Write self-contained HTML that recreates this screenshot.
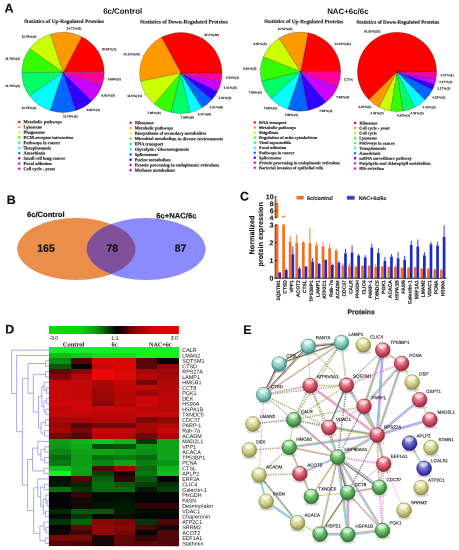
<!DOCTYPE html>
<html><head><meta charset="utf-8"><title>Figure</title>
<style>
html,body{margin:0;padding:0;background:#fff;}
body{width:459px;height:550px;overflow:hidden;font-family:"Liberation Sans",sans-serif;}
svg{display:block;will-change:transform;text-rendering:geometricPrecision;}
.s{font-family:"Liberation Sans",sans-serif;}
.r{font-family:"Liberation Serif",serif;}
</style></head><body>
<svg width="459" height="550" viewBox="0 0 459 550">
<rect width="459" height="550" fill="#fff"/>
<g transform="rotate(0.03 230 275)">
<g id="panelA">
<text class="s" x="4.3" y="12.7" font-size="12.4" font-weight="bold" fill="#111" stroke="#111" stroke-width="0.2">A</text>
<text class="s" x="103" y="13.9" font-size="7.9" font-weight="bold" fill="#111">6c/Control</text>
<text class="s" x="327" y="13.9" font-size="7.9" font-weight="bold" fill="#111">NAC+6c/6c</text>
<text class="r" x="63.8" y="23.1" font-size="5.38" font-weight="bold" text-anchor="middle" fill="#222" stroke="#222" stroke-width="0.15">Statistics of Up-Regulated Proteins</text>
<text class="r" x="183.8" y="23.6" font-size="5.44" font-weight="bold" text-anchor="middle" fill="#222" stroke="#222" stroke-width="0.15">Statistics of Down-Regulated Proteins</text>
<text class="r" x="303.7" y="23.1" font-size="5.32" font-weight="bold" text-anchor="middle" fill="#222" stroke="#222" stroke-width="0.15">Statistics of Up-Regulated Proteins</text>
<text class="r" x="397.8" y="23.6" font-size="5.15" font-weight="bold" text-anchor="middle" fill="#222" stroke="#222" stroke-width="0.15">Statistics of Down-Regulated Proteins</text>
<path d="M62.9 72.5 L104.1 72.5 A41.2 40.1 0 0 0 81.6 36.77 Z" fill="#FF0000" stroke="#222" stroke-width="0.25"/>
<path d="M98.03 51.55 L99.79 50.5" stroke="#333" stroke-width="0.3"/>
<text class="r" x="101.54" y="50.45" font-size="3.35" font-weight="bold" fill="#222" stroke="#222" stroke-width="0.12">20.59%(7)</text>
<path d="M62.9 72.5 L81.6 36.77 A41.2 40.1 0 0 0 50.17 34.36 Z" fill="#FF9900" stroke="#222" stroke-width="0.25"/>
<path d="M66.13 32.52 L66.29 30.52" stroke="#333" stroke-width="0.3"/>
<text class="r" x="66.46" y="29.53" font-size="3.35" font-weight="bold" fill="#222" stroke="#222" stroke-width="0.12">14.71%(5)</text>
<path d="M62.9 72.5 L50.17 34.36 A41.2 40.1 0 0 0 29.57 48.93 Z" fill="#CCFF00" stroke="#222" stroke-width="0.25"/>
<path d="M38.68 40.06 L37.47 38.44" stroke="#333" stroke-width="0.3"/>
<text class="r" x="36.26" y="37.81" font-size="3.35" font-weight="bold" text-anchor="end" fill="#222" stroke="#222" stroke-width="0.12">11.76%(4)</text>
<path d="M62.9 72.5 L29.57 48.93 A41.2 40.1 0 0 0 21.7 72.5 Z" fill="#33FF00" stroke="#222" stroke-width="0.25"/>
<path d="M23.72 60.11 L21.76 59.49" stroke="#333" stroke-width="0.3"/>
<text class="r" x="19.8" y="59.87" font-size="3.35" font-weight="bold" text-anchor="end" fill="#222" stroke="#222" stroke-width="0.12">11.76%(4)</text>
<path d="M62.9 72.5 L21.7 72.5 A41.2 40.1 0 0 0 29.57 96.07 Z" fill="#00FF66" stroke="#222" stroke-width="0.25"/>
<path d="M23.72 84.89 L21.76 85.51" stroke="#333" stroke-width="0.3"/>
<text class="r" x="19.8" y="87.13" font-size="3.35" font-weight="bold" text-anchor="end" fill="#222" stroke="#222" stroke-width="0.12">11.76%(4)</text>
<path d="M62.9 72.5 L29.57 96.07 A41.2 40.1 0 0 0 50.17 110.64 Z" fill="#00FFFF" stroke="#222" stroke-width="0.25"/>
<path d="M38.68 104.94 L37.47 106.56" stroke="#333" stroke-width="0.3"/>
<text class="r" x="36.26" y="109.19" font-size="3.35" font-weight="bold" text-anchor="end" fill="#222" stroke="#222" stroke-width="0.12">11.76%(4)</text>
<path d="M62.9 72.5 L50.17 110.64 A41.2 40.1 0 0 0 75.63 110.64 Z" fill="#0066FF" stroke="#222" stroke-width="0.25"/>
<path d="M62.9 112.6 L62.9 114.61" stroke="#333" stroke-width="0.3"/>
<text class="r" x="62.9" y="117.61" font-size="3.35" font-weight="bold" fill="#222" stroke="#222" stroke-width="0.12">11.76%(4)</text>
<path d="M62.9 72.5 L75.63 110.64 A41.2 40.1 0 0 0 92.03 100.85 Z" fill="#3300FF" stroke="#222" stroke-width="0.25"/>
<path d="M84.43 106.69 L85.5 108.4" stroke="#333" stroke-width="0.3"/>
<text class="r" x="86.58" y="111.11" font-size="3.35" font-weight="bold" fill="#222" stroke="#222" stroke-width="0.12">8.82%(3)</text>
<path d="M62.9 72.5 L92.03 100.85 A41.2 40.1 0 0 0 102.08 84.89 Z" fill="#CC00FF" stroke="#222" stroke-width="0.25"/>
<path d="M98.03 93.45 L99.79 94.5" stroke="#333" stroke-width="0.3"/>
<text class="r" x="101.54" y="96.55" font-size="3.35" font-weight="bold" fill="#222" stroke="#222" stroke-width="0.12">8.82%(3)</text>
<path d="M62.9 72.5 L102.08 84.89 A41.2 40.1 0 0 0 104.1 72.5 Z" fill="#FF0099" stroke="#222" stroke-width="0.25"/>
<path d="M103.59 78.77 L105.63 79.09" stroke="#333" stroke-width="0.3"/>
<text class="r" x="107.66" y="80.4" font-size="3.35" font-weight="bold" fill="#222" stroke="#222" stroke-width="0.12">5.88%(2)</text>
<path d="M180.7 73.1 L221.9 73.1 A41.2 40.5 0 0 0 161.34 37.35 Z" fill="#FF0000" stroke="#222" stroke-width="0.25"/>
<path d="M201.91 38.38 L202.97 36.64" stroke="#333" stroke-width="0.3"/>
<text class="r" x="204.03" y="35.91" font-size="3.35" font-weight="bold" fill="#222" stroke="#222" stroke-width="0.12">35.4%(40)</text>
<path d="M180.7 73.1 L161.34 37.35 A41.2 40.5 0 0 0 140.37 81.38 Z" fill="#FF9900" stroke="#222" stroke-width="0.25"/>
<path d="M143.39 55.93 L141.52 55.07" stroke="#333" stroke-width="0.3"/>
<text class="r" x="139.65" y="55.21" font-size="3.35" font-weight="bold" text-anchor="end" fill="#222" stroke="#222" stroke-width="0.12">22.12%(25)</text>
<path d="M180.7 73.1 L140.37 81.38 A41.2 40.5 0 0 0 154.31 104.2 Z" fill="#CCFF00" stroke="#222" stroke-width="0.25"/>
<path d="M145.38 93.95 L143.61 94.99" stroke="#333" stroke-width="0.3"/>
<text class="r" x="141.85" y="97.03" font-size="3.35" font-weight="bold" text-anchor="end" fill="#222" stroke="#222" stroke-width="0.12">11.5%(13)</text>
<path d="M180.7 73.1 L154.31 104.2 A41.2 40.5 0 0 0 171.24 112.52 Z" fill="#33FF00" stroke="#222" stroke-width="0.25"/>
<path d="M162.28 109.33 L161.36 111.14" stroke="#333" stroke-width="0.3"/>
<text class="r" x="160.44" y="113.95" font-size="3.35" font-weight="bold" text-anchor="end" fill="#222" stroke="#222" stroke-width="0.12">7.96%(9)</text>
<path d="M180.7 73.1 L171.24 112.52 A41.2 40.5 0 0 0 190.16 112.52 Z" fill="#00FF66" stroke="#222" stroke-width="0.25"/>
<path d="M180.7 113.6 L180.7 115.62" stroke="#333" stroke-width="0.3"/>
<text class="r" x="180.7" y="118.65" font-size="3.35" font-weight="bold" fill="#222" stroke="#222" stroke-width="0.12">7.96%(9)</text>
<path d="M180.7 73.1 L190.16 112.52 A41.2 40.5 0 0 0 201.91 107.82 Z" fill="#00FFFF" stroke="#222" stroke-width="0.25"/>
<path d="M196.22 110.62 L197 112.49" stroke="#333" stroke-width="0.3"/>
<text class="r" x="197.77" y="115.37" font-size="3.35" font-weight="bold" fill="#222" stroke="#222" stroke-width="0.12">5.31%(6)</text>
<path d="M180.7 73.1 L201.91 107.82 A41.2 40.5 0 0 0 211.65 99.84 Z" fill="#0066FF" stroke="#222" stroke-width="0.25"/>
<path d="M207.09 104.2 L208.41 105.75" stroke="#333" stroke-width="0.3"/>
<text class="r" x="209.73" y="108.31" font-size="3.35" font-weight="bold" fill="#222" stroke="#222" stroke-width="0.12">5.31%(6)</text>
<path d="M180.7 73.1 L211.65 99.84 A41.2 40.5 0 0 0 217.55 91.21 Z" fill="#3300FF" stroke="#222" stroke-width="0.25"/>
<path d="M214.88 95.71 L216.59 96.84" stroke="#333" stroke-width="0.3"/>
<text class="r" x="218.3" y="98.97" font-size="3.35" font-weight="bold" fill="#222" stroke="#222" stroke-width="0.12">4.42%(5)</text>
<path d="M180.7 73.1 L217.55 91.21 A41.2 40.5 0 0 0 221.03 81.38 Z" fill="#CC00FF" stroke="#222" stroke-width="0.25"/>
<path d="M219.61 86.41 L221.56 87.07" stroke="#333" stroke-width="0.3"/>
<text class="r" x="223.5" y="88.74" font-size="3.35" font-weight="bold" fill="#222" stroke="#222" stroke-width="0.12">4.42%(5)</text>
<path d="M180.7 73.1 L221.03 81.38 A41.2 40.5 0 0 0 221.9 73.1 Z" fill="#FF0099" stroke="#222" stroke-width="0.25"/>
<path d="M221.68 77.26 L223.73 77.47" stroke="#333" stroke-width="0.3"/>
<text class="r" x="225.78" y="78.68" font-size="3.35" font-weight="bold" fill="#222" stroke="#222" stroke-width="0.12">3.54%(4)</text>
<path d="M300.45 71.6 L340.6 71.6 A40.15 39.5 0 0 0 307.97 32.8 Z" fill="#FF0000" stroke="#222" stroke-width="0.25"/>
<path d="M331.39 46.42 L332.93 45.16" stroke="#333" stroke-width="0.3"/>
<text class="r" x="334.48" y="44.9" font-size="3.35" font-weight="bold" fill="#222" stroke="#222" stroke-width="0.12">21.15%(11)</text>
<path d="M300.45 71.6 L307.97 32.8 A40.15 39.5 0 0 0 278.94 38.25 Z" fill="#FF9900" stroke="#222" stroke-width="0.25"/>
<path d="M292.93 32.8 L292.55 30.86" stroke="#333" stroke-width="0.3"/>
<text class="r" x="292.17" y="29.92" font-size="3.35" font-weight="bold" text-anchor="end" fill="#222" stroke="#222" stroke-width="0.12">11.54%(6)</text>
<path d="M300.45 71.6 L278.94 38.25 A40.15 39.5 0 0 0 263.12 57.06 Z" fill="#CCFF00" stroke="#222" stroke-width="0.25"/>
<path d="M269.51 46.42 L267.97 45.16" stroke="#333" stroke-width="0.3"/>
<text class="r" x="266.42" y="44.9" font-size="3.35" font-weight="bold" text-anchor="end" fill="#222" stroke="#222" stroke-width="0.12">9.62%(5)</text>
<path d="M300.45 71.6 L263.12 57.06 A40.15 39.5 0 0 0 261.56 81.42 Z" fill="#33FF00" stroke="#222" stroke-width="0.25"/>
<path d="M260.38 69.12 L258.38 69" stroke="#333" stroke-width="0.3"/>
<text class="r" x="256.37" y="69.87" font-size="3.35" font-weight="bold" text-anchor="end" fill="#222" stroke="#222" stroke-width="0.12">9.62%(5)</text>
<path d="M300.45 71.6 L261.56 81.42 A40.15 39.5 0 0 0 271.18 98.64 Z" fill="#00FF66" stroke="#222" stroke-width="0.25"/>
<path d="M265.27 90.63 L263.51 91.58" stroke="#333" stroke-width="0.3"/>
<text class="r" x="261.75" y="93.53" font-size="3.35" font-weight="bold" text-anchor="end" fill="#222" stroke="#222" stroke-width="0.12">7.69%(4)</text>
<path d="M300.45 71.6 L271.18 98.64 A40.15 39.5 0 0 0 288.04 109.17 Z" fill="#00FFFF" stroke="#222" stroke-width="0.25"/>
<path d="M278.94 104.95 L277.86 106.62" stroke="#333" stroke-width="0.3"/>
<text class="r" x="276.79" y="109.29" font-size="3.35" font-weight="bold" text-anchor="end" fill="#222" stroke="#222" stroke-width="0.12">7.69%(4)</text>
<path d="M300.45 71.6 L288.04 109.17 A40.15 39.5 0 0 0 307.97 110.4 Z" fill="#0066FF" stroke="#222" stroke-width="0.25"/>
<path d="M297.93 111.02 L297.8 112.99" stroke="#333" stroke-width="0.3"/>
<text class="r" x="297.68" y="115.96" font-size="3.35" font-weight="bold" text-anchor="end" fill="#222" stroke="#222" stroke-width="0.12">7.69%(4)</text>
<path d="M300.45 71.6 L307.97 110.4 A40.15 39.5 0 0 0 326.04 102.04 Z" fill="#3300FF" stroke="#222" stroke-width="0.25"/>
<path d="M317.55 107.34 L318.4 109.13" stroke="#333" stroke-width="0.3"/>
<text class="r" x="319.25" y="111.91" font-size="3.35" font-weight="bold" fill="#222" stroke="#222" stroke-width="0.12">7.69%(4)</text>
<path d="M300.45 71.6 L326.04 102.04 A40.15 39.5 0 0 0 337.78 86.14 Z" fill="#CC00FF" stroke="#222" stroke-width="0.25"/>
<path d="M332.93 94.82 L334.56 95.98" stroke="#333" stroke-width="0.3"/>
<text class="r" x="336.18" y="98.14" font-size="3.35" font-weight="bold" fill="#222" stroke="#222" stroke-width="0.12">7.69%(4)</text>
<path d="M300.45 71.6 L337.78 86.14 A40.15 39.5 0 0 0 340.6 71.6 Z" fill="#FF0099" stroke="#222" stroke-width="0.25"/>
<path d="M339.89 79 L341.86 79.37" stroke="#333" stroke-width="0.3"/>
<text class="r" x="343.83" y="80.74" font-size="3.35" font-weight="bold" fill="#222" stroke="#222" stroke-width="0.12">5.77%</text>
<path d="M396.9 71.8 L436.5 71.8 A39.6 39.6 0 1 0 368.9 99.8 Z" fill="#FF0000" stroke="#222" stroke-width="0.25"/>
<path d="M381.75 35.21 L380.99 33.39" stroke="#333" stroke-width="0.3"/>
<text class="r" x="380.23" y="32.56" font-size="3.35" font-weight="bold" text-anchor="end" fill="#222" stroke="#222" stroke-width="0.12">54.35%(25)</text>
<path d="M396.9 71.8 L368.9 99.8 A39.6 39.6 0 0 0 378.92 107.08 Z" fill="#FF9900" stroke="#222" stroke-width="0.25"/>
<path d="M373.62 103.84 L372.46 105.44" stroke="#333" stroke-width="0.3"/>
<text class="r" x="371.3" y="108.04" font-size="3.35" font-weight="bold" text-anchor="end" fill="#222" stroke="#222" stroke-width="0.12">4.35%(2)</text>
<path d="M396.9 71.8 L378.92 107.08 A39.6 39.6 0 0 0 390.71 110.91 Z" fill="#CCFF00" stroke="#222" stroke-width="0.25"/>
<path d="M384.66 109.46 L384.05 111.34" stroke="#333" stroke-width="0.3"/>
<text class="r" x="383.44" y="114.23" font-size="3.35" font-weight="bold" text-anchor="end" fill="#222" stroke="#222" stroke-width="0.12">4.35%(2)</text>
<path d="M396.9 71.8 L390.71 110.91 A39.6 39.6 0 0 0 403.09 110.91 Z" fill="#33FF00" stroke="#222" stroke-width="0.25"/>
<path d="M396.9 111.4 L396.9 113.38" stroke="#333" stroke-width="0.3"/>
<text class="r" x="396.9" y="116.36" font-size="3.35" font-weight="bold" fill="#222" stroke="#222" stroke-width="0.12">4.35%(2)</text>
<path d="M396.9 71.8 L403.09 110.91 A39.6 39.6 0 0 0 414.88 107.08 Z" fill="#00FF66" stroke="#222" stroke-width="0.25"/>
<path d="M409.14 109.46 L409.75 111.34" stroke="#333" stroke-width="0.3"/>
<text class="r" x="410.36" y="114.23" font-size="3.35" font-weight="bold" fill="#222" stroke="#222" stroke-width="0.12">4.35%(2)</text>
<path d="M396.9 71.8 L414.88 107.08 A39.6 39.6 0 0 0 424.9 99.8 Z" fill="#00FFFF" stroke="#222" stroke-width="0.25"/>
<path d="M420.18 103.84 L421.34 105.44" stroke="#333" stroke-width="0.3"/>
<text class="r" x="422.5" y="108.04" font-size="3.35" font-weight="bold" fill="#222" stroke="#222" stroke-width="0.12">4.35%(2)</text>
<path d="M396.9 71.8 L424.9 99.8 A39.6 39.6 0 0 0 432.18 89.78 Z" fill="#0066FF" stroke="#222" stroke-width="0.25"/>
<path d="M428.94 95.08 L430.54 96.24" stroke="#333" stroke-width="0.3"/>
<text class="r" x="432.14" y="98.4" font-size="3.35" font-weight="bold" fill="#222" stroke="#222" stroke-width="0.12">4.35%(2)</text>
<path d="M396.9 71.8 L432.18 89.78 A39.6 39.6 0 0 0 434.56 84.04 Z" fill="#3300FF" stroke="#222" stroke-width="0.25"/>
<path d="M433.49 86.95 L435.31 87.71" stroke="#333" stroke-width="0.3"/>
<text class="r" x="437.14" y="89.47" font-size="3.35" font-weight="bold" fill="#222" stroke="#222" stroke-width="0.12">2.17%(1)</text>
<path d="M396.9 71.8 L434.56 84.04 A39.6 39.6 0 0 0 436.01 77.99 Z" fill="#CC00FF" stroke="#222" stroke-width="0.25"/>
<path d="M435.41 81.04 L437.33 81.51" stroke="#333" stroke-width="0.3"/>
<text class="r" x="439.26" y="82.97" font-size="3.35" font-weight="bold" fill="#222" stroke="#222" stroke-width="0.12">2.17%(1)</text>
<path d="M396.9 71.8 L436.01 77.99 A39.6 39.6 0 0 0 436.5 71.8 Z" fill="#FF0099" stroke="#222" stroke-width="0.25"/>
<path d="M436.38 74.91 L438.35 75.06" stroke="#333" stroke-width="0.3"/>
<text class="r" x="440.33" y="76.22" font-size="3.35" font-weight="bold" fill="#222" stroke="#222" stroke-width="0.12">2.17%(1)</text>
<circle cx="19.2" cy="122" r="1.2" fill="#FF0000"/>
<text class="r" x="23.5" y="123.45" font-size="4.45" font-weight="bold" fill="#1a1a1a" stroke="#1a1a1a" stroke-width="0.15">Metabolic pathways</text>
<circle cx="19.2" cy="127.21" r="1.2" fill="#FF9900"/>
<text class="r" x="23.5" y="128.66" font-size="4.45" font-weight="bold" fill="#1a1a1a" stroke="#1a1a1a" stroke-width="0.15">Lysosome</text>
<circle cx="19.2" cy="132.42" r="1.2" fill="#CCFF00"/>
<text class="r" x="23.5" y="133.87" font-size="4.45" font-weight="bold" fill="#1a1a1a" stroke="#1a1a1a" stroke-width="0.15">Phagosome</text>
<circle cx="19.2" cy="137.63" r="1.2" fill="#33FF00"/>
<text class="r" x="23.5" y="139.08" font-size="4.45" font-weight="bold" fill="#1a1a1a" stroke="#1a1a1a" stroke-width="0.15">ECM-receptor interaction</text>
<circle cx="19.2" cy="142.84" r="1.2" fill="#00FF66"/>
<text class="r" x="23.5" y="144.29" font-size="4.45" font-weight="bold" fill="#1a1a1a" stroke="#1a1a1a" stroke-width="0.15">Pathways in cancer</text>
<circle cx="19.2" cy="148.05" r="1.2" fill="#00FFFF"/>
<text class="r" x="23.5" y="149.5" font-size="4.45" font-weight="bold" fill="#1a1a1a" stroke="#1a1a1a" stroke-width="0.15">Toxoplasmosis</text>
<circle cx="19.2" cy="153.26" r="1.2" fill="#0066FF"/>
<text class="r" x="23.5" y="154.71" font-size="4.45" font-weight="bold" fill="#1a1a1a" stroke="#1a1a1a" stroke-width="0.15">Amoebiasis</text>
<circle cx="19.2" cy="158.47" r="1.2" fill="#3300FF"/>
<text class="r" x="23.5" y="159.92" font-size="4.45" font-weight="bold" fill="#1a1a1a" stroke="#1a1a1a" stroke-width="0.15">Small cell lung cancer</text>
<circle cx="19.2" cy="163.68" r="1.2" fill="#CC00FF"/>
<text class="r" x="23.5" y="165.13" font-size="4.45" font-weight="bold" fill="#1a1a1a" stroke="#1a1a1a" stroke-width="0.15">Focal adhesion</text>
<circle cx="19.2" cy="168.89" r="1.2" fill="#FF0099"/>
<text class="r" x="23.5" y="170.34" font-size="4.45" font-weight="bold" fill="#1a1a1a" stroke="#1a1a1a" stroke-width="0.15">Cell cycle - yeast</text>
<circle cx="130.5" cy="122.9" r="1.2" fill="#FF0000"/>
<text class="r" x="134.8" y="124.35" font-size="4.45" font-weight="bold" fill="#1a1a1a" stroke="#1a1a1a" stroke-width="0.15">Ribosome</text>
<circle cx="130.5" cy="128.17" r="1.2" fill="#FF9900"/>
<text class="r" x="134.8" y="129.62" font-size="4.45" font-weight="bold" fill="#1a1a1a" stroke="#1a1a1a" stroke-width="0.15">Metabolic pathways</text>
<circle cx="130.5" cy="133.44" r="1.2" fill="#CCFF00"/>
<text class="r" x="134.8" y="134.89" font-size="4.45" font-weight="bold" fill="#1a1a1a" stroke="#1a1a1a" stroke-width="0.15">Biosynthesis of secondary metabolites</text>
<circle cx="130.5" cy="138.71" r="1.2" fill="#33FF00"/>
<text class="r" x="134.8" y="140.16" font-size="4.45" font-weight="bold" fill="#1a1a1a" stroke="#1a1a1a" stroke-width="0.15">Microbial metabolism in diverse environments</text>
<circle cx="130.5" cy="143.98" r="1.2" fill="#00FF66"/>
<text class="r" x="134.8" y="145.43" font-size="4.45" font-weight="bold" fill="#1a1a1a" stroke="#1a1a1a" stroke-width="0.15">RNA transport</text>
<circle cx="130.5" cy="149.25" r="1.2" fill="#00FFFF"/>
<text class="r" x="134.8" y="150.7" font-size="4.45" font-weight="bold" fill="#1a1a1a" stroke="#1a1a1a" stroke-width="0.15">Glycolysis / Gluconeogenesis</text>
<circle cx="130.5" cy="154.52" r="1.2" fill="#0066FF"/>
<text class="r" x="134.8" y="155.97" font-size="4.45" font-weight="bold" fill="#1a1a1a" stroke="#1a1a1a" stroke-width="0.15">Spliceosome</text>
<circle cx="130.5" cy="159.79" r="1.2" fill="#3300FF"/>
<text class="r" x="134.8" y="161.24" font-size="4.45" font-weight="bold" fill="#1a1a1a" stroke="#1a1a1a" stroke-width="0.15">Purine metabolism</text>
<circle cx="130.5" cy="165.06" r="1.2" fill="#CC00FF"/>
<text class="r" x="134.8" y="166.51" font-size="4.45" font-weight="bold" fill="#1a1a1a" stroke="#1a1a1a" stroke-width="0.15">Protein processing in endoplasmic reticulum</text>
<circle cx="130.5" cy="170.33" r="1.2" fill="#FF0099"/>
<text class="r" x="134.8" y="171.78" font-size="4.45" font-weight="bold" fill="#1a1a1a" stroke="#1a1a1a" stroke-width="0.15">Methane metabolism</text>
<circle cx="254.7" cy="122.5" r="1.2" fill="#FF0000"/>
<text class="r" x="259" y="123.95" font-size="4.28" font-weight="bold" fill="#1a1a1a" stroke="#1a1a1a" stroke-width="0.15">RNA transport</text>
<circle cx="254.7" cy="127.53" r="1.2" fill="#FF9900"/>
<text class="r" x="259" y="128.98" font-size="4.28" font-weight="bold" fill="#1a1a1a" stroke="#1a1a1a" stroke-width="0.15">Metabolic pathways</text>
<circle cx="254.7" cy="132.56" r="1.2" fill="#CCFF00"/>
<text class="r" x="259" y="134.01" font-size="4.28" font-weight="bold" fill="#1a1a1a" stroke="#1a1a1a" stroke-width="0.15">Shigellosis</text>
<circle cx="254.7" cy="137.59" r="1.2" fill="#33FF00"/>
<text class="r" x="259" y="139.04" font-size="4.28" font-weight="bold" fill="#1a1a1a" stroke="#1a1a1a" stroke-width="0.15">Regulation of actin cytoskeleton</text>
<circle cx="254.7" cy="142.62" r="1.2" fill="#00FF66"/>
<text class="r" x="259" y="144.07" font-size="4.28" font-weight="bold" fill="#1a1a1a" stroke="#1a1a1a" stroke-width="0.15">Viral myocarditis</text>
<circle cx="254.7" cy="147.65" r="1.2" fill="#00FFFF"/>
<text class="r" x="259" y="149.1" font-size="4.28" font-weight="bold" fill="#1a1a1a" stroke="#1a1a1a" stroke-width="0.15">Focal adhesion</text>
<circle cx="254.7" cy="152.68" r="1.2" fill="#0066FF"/>
<text class="r" x="259" y="154.13" font-size="4.28" font-weight="bold" fill="#1a1a1a" stroke="#1a1a1a" stroke-width="0.15">Pathways in cancer</text>
<circle cx="254.7" cy="157.71" r="1.2" fill="#3300FF"/>
<text class="r" x="259" y="159.16" font-size="4.28" font-weight="bold" fill="#1a1a1a" stroke="#1a1a1a" stroke-width="0.15">Spliceosome</text>
<circle cx="254.7" cy="162.74" r="1.2" fill="#CC00FF"/>
<text class="r" x="259" y="164.19" font-size="4.28" font-weight="bold" fill="#1a1a1a" stroke="#1a1a1a" stroke-width="0.15">Protein processing in endoplasmic reticulum</text>
<circle cx="254.7" cy="167.77" r="1.2" fill="#FF0099"/>
<text class="r" x="259" y="169.22" font-size="4.28" font-weight="bold" fill="#1a1a1a" stroke="#1a1a1a" stroke-width="0.15">Bacterial invasion of epithelial cells</text>
<circle cx="355" cy="122.9" r="1.2" fill="#FF0000"/>
<text class="r" x="359.3" y="124.35" font-size="4.29" font-weight="bold" fill="#1a1a1a" stroke="#1a1a1a" stroke-width="0.15">Ribosome</text>
<circle cx="355" cy="127.95" r="1.2" fill="#FF9900"/>
<text class="r" x="359.3" y="129.4" font-size="4.29" font-weight="bold" fill="#1a1a1a" stroke="#1a1a1a" stroke-width="0.15">Cell cycle - yeast</text>
<circle cx="355" cy="133" r="1.2" fill="#CCFF00"/>
<text class="r" x="359.3" y="134.45" font-size="4.29" font-weight="bold" fill="#1a1a1a" stroke="#1a1a1a" stroke-width="0.15">Cell cycle</text>
<circle cx="355" cy="138.05" r="1.2" fill="#33FF00"/>
<text class="r" x="359.3" y="139.5" font-size="4.29" font-weight="bold" fill="#1a1a1a" stroke="#1a1a1a" stroke-width="0.15">Lysosome</text>
<circle cx="355" cy="143.1" r="1.2" fill="#00FF66"/>
<text class="r" x="359.3" y="144.55" font-size="4.29" font-weight="bold" fill="#1a1a1a" stroke="#1a1a1a" stroke-width="0.15">Pathways in cancer</text>
<circle cx="355" cy="148.15" r="1.2" fill="#00FFFF"/>
<text class="r" x="359.3" y="149.6" font-size="4.29" font-weight="bold" fill="#1a1a1a" stroke="#1a1a1a" stroke-width="0.15">Toxoplasmosis</text>
<circle cx="355" cy="153.2" r="1.2" fill="#0066FF"/>
<text class="r" x="359.3" y="154.65" font-size="4.29" font-weight="bold" fill="#1a1a1a" stroke="#1a1a1a" stroke-width="0.15">Amoebiasis</text>
<circle cx="355" cy="158.25" r="1.2" fill="#3300FF"/>
<text class="r" x="359.3" y="159.7" font-size="4.29" font-weight="bold" fill="#1a1a1a" stroke="#1a1a1a" stroke-width="0.15">mRNA surveillance pathway</text>
<circle cx="355" cy="163.3" r="1.2" fill="#CC00FF"/>
<text class="r" x="359.3" y="164.75" font-size="4.29" font-weight="bold" fill="#1a1a1a" stroke="#1a1a1a" stroke-width="0.15">Porphyrin and chlorophyll metabolism</text>
<circle cx="355" cy="168.35" r="1.2" fill="#FF0099"/>
<text class="r" x="359.3" y="169.8" font-size="4.29" font-weight="bold" fill="#1a1a1a" stroke="#1a1a1a" stroke-width="0.15">Bile secretion</text>
</g>
<g id="panelB">
<text class="s" x="6.8" y="204" font-size="12.4" font-weight="bold" fill="#111" stroke="#111" stroke-width="0.2">B</text>
<defs><clipPath id="vc"><ellipse cx="76.35" cy="249.1" rx="59.15" ry="31"/></clipPath></defs>
<ellipse cx="76.35" cy="249.1" rx="59.15" ry="31" fill="#EA8E4A"/>
<ellipse cx="146.15" cy="249.1" rx="59.45" ry="31" fill="#8B8BFF"/>
<ellipse cx="146.15" cy="249.1" rx="59.45" ry="31" fill="#81509B" clip-path="url(#vc)"/>
<text class="s" x="27" y="217.1" font-size="7.6" font-weight="bold" fill="#111" stroke="#111" stroke-width="0.18">6c/Control</text>
<text class="s" x="156.3" y="218.2" font-size="7.65" font-weight="bold" fill="#111" stroke="#111" stroke-width="0.18">6c+NAC/6c</text>
<text class="s" x="46" y="251.8" font-size="10.5" font-weight="bold" text-anchor="middle" fill="#111" stroke="#111" stroke-width="0.18">165</text>
<text class="s" x="112.3" y="251.8" font-size="10.5" font-weight="bold" text-anchor="middle" fill="#111" stroke="#111" stroke-width="0.18">78</text>
<text class="s" x="180.6" y="251.8" font-size="10.5" font-weight="bold" text-anchor="middle" fill="#111" stroke="#111" stroke-width="0.18">87</text>
</g>
<g id="panelC">
<text class="s" x="240" y="200.6" font-size="12.4" font-weight="bold" fill="#111" stroke="#111" stroke-width="0.2">C</text>
<rect x="275.65" y="224.57" width="2.7" height="53.63" fill="#FF6A1A"/>
<rect x="275.65" y="203.42" width="2.7" height="14.28" fill="#FF6A1A"/>
<path d="M277 203.42 V198.72" stroke="#FF6A1A" stroke-width="0.9"/>
<rect x="278.35" y="272.36" width="2.7" height="5.84" fill="#1C2BC8"/>
<path d="M279.7 272.36 V271.83" stroke="#1C2BC8" stroke-width="0.9"/>
<text class="s" font-weight="bold" font-size="4.95" fill="#1a1a1a" stroke="#1a1a1a" stroke-width="0.13" text-anchor="end" transform="translate(280.05 280.2) rotate(-90)">SQSTM1</text>
<rect x="282.23" y="224.57" width="2.7" height="53.63" fill="#FF6A1A"/>
<rect x="282.23" y="215.78" width="2.7" height="1.4" fill="#FF6A1A"/>
<rect x="284.93" y="269.88" width="2.7" height="8.32" fill="#1C2BC8"/>
<path d="M286.28 269.88 V268.29" stroke="#1C2BC8" stroke-width="0.9"/>
<text class="s" font-weight="bold" font-size="4.95" fill="#1a1a1a" stroke="#1a1a1a" stroke-width="0.13" text-anchor="end" transform="translate(286.63 280.2) rotate(-90)">CTSD</text>
<rect x="288.8" y="241.56" width="2.7" height="36.64" fill="#FF6A1A"/>
<path d="M290.15 241.56 V235.72" stroke="#FF6A1A" stroke-width="0.9"/>
<rect x="291.5" y="254.3" width="2.7" height="23.9" fill="#1C2BC8"/>
<path d="M292.85 254.3 V246.34" stroke="#1C2BC8" stroke-width="0.9"/>
<text class="s" font-weight="bold" font-size="4.95" fill="#1a1a1a" stroke="#1a1a1a" stroke-width="0.13" text-anchor="end" transform="translate(293.2 280.2) rotate(-90)">VPP1</text>
<rect x="295.38" y="242.8" width="2.7" height="35.4" fill="#FF6A1A"/>
<path d="M296.73 242.8 V234.3" stroke="#FF6A1A" stroke-width="0.9"/>
<rect x="298.08" y="268.46" width="2.7" height="9.74" fill="#1C2BC8"/>
<path d="M299.43 268.46 V266.52" stroke="#1C2BC8" stroke-width="0.9"/>
<text class="s" font-weight="bold" font-size="4.95" fill="#1a1a1a" stroke="#1a1a1a" stroke-width="0.13" text-anchor="end" transform="translate(299.78 280.2) rotate(-90)">ACOT2</text>
<rect x="301.95" y="242.27" width="2.7" height="35.93" fill="#FF6A1A"/>
<path d="M303.3 242.27 V241.03" stroke="#FF6A1A" stroke-width="0.9"/>
<rect x="304.65" y="266.52" width="2.7" height="11.68" fill="#1C2BC8"/>
<path d="M306 266.52 V265.81" stroke="#1C2BC8" stroke-width="0.9"/>
<text class="s" font-weight="bold" font-size="4.95" fill="#1a1a1a" stroke="#1a1a1a" stroke-width="0.13" text-anchor="end" transform="translate(306.35 280.2) rotate(-90)">CTSL</text>
<rect x="308.53" y="243.33" width="2.7" height="34.87" fill="#FF6A1A"/>
<path d="M309.88 243.33 V227.75" stroke="#FF6A1A" stroke-width="0.9"/>
<rect x="311.23" y="261.38" width="2.7" height="16.81" fill="#1C2BC8"/>
<path d="M312.58 261.38 V258.02" stroke="#1C2BC8" stroke-width="0.9"/>
<text class="s" font-weight="bold" font-size="4.95" fill="#1a1a1a" stroke="#1a1a1a" stroke-width="0.13" text-anchor="end" transform="translate(312.93 280.2) rotate(-90)">TP53BP1</text>
<rect x="315.11" y="245.45" width="2.7" height="32.75" fill="#FF6A1A"/>
<path d="M316.46 245.45 V242.27" stroke="#FF6A1A" stroke-width="0.9"/>
<rect x="317.81" y="263.69" width="2.7" height="14.51" fill="#1C2BC8"/>
<path d="M319.16 263.69 V262.98" stroke="#1C2BC8" stroke-width="0.9"/>
<text class="s" font-weight="bold" font-size="4.95" fill="#1a1a1a" stroke="#1a1a1a" stroke-width="0.13" text-anchor="end" transform="translate(319.51 280.2) rotate(-90)">LAMP1</text>
<rect x="321.68" y="246.52" width="2.7" height="31.68" fill="#FF6A1A"/>
<path d="M323.03 246.52 V242.27" stroke="#FF6A1A" stroke-width="0.9"/>
<rect x="324.38" y="259.97" width="2.7" height="18.23" fill="#1C2BC8"/>
<path d="M325.73 259.97 V259.26" stroke="#1C2BC8" stroke-width="0.9"/>
<text class="s" font-weight="bold" font-size="4.95" fill="#1a1a1a" stroke="#1a1a1a" stroke-width="0.13" text-anchor="end" transform="translate(326.08 280.2) rotate(-90)">ATP2C1</text>
<rect x="328.26" y="248.11" width="2.7" height="30.09" fill="#FF6A1A"/>
<path d="M329.61 248.11 V243.69" stroke="#FF6A1A" stroke-width="0.9"/>
<rect x="330.96" y="264.93" width="2.7" height="13.27" fill="#1C2BC8"/>
<path d="M332.31 264.93 V263.33" stroke="#1C2BC8" stroke-width="0.9"/>
<text class="s" font-weight="bold" font-size="4.95" fill="#1a1a1a" stroke="#1a1a1a" stroke-width="0.13" text-anchor="end" transform="translate(332.66 280.2) rotate(-90)">Rab-7a</text>
<rect x="334.83" y="250.41" width="2.7" height="27.79" fill="#FF6A1A"/>
<path d="M336.18 250.41 V248.82" stroke="#FF6A1A" stroke-width="0.9"/>
<rect x="337.53" y="262.62" width="2.7" height="15.58" fill="#1C2BC8"/>
<path d="M338.88 262.62 V260.68" stroke="#1C2BC8" stroke-width="0.9"/>
<text class="s" font-weight="bold" font-size="4.95" fill="#1a1a1a" stroke="#1a1a1a" stroke-width="0.13" text-anchor="end" transform="translate(339.23 280.2) rotate(-90)">ACADM</text>
<rect x="341.41" y="265.46" width="2.7" height="12.74" fill="#FF6A1A"/>
<path d="M342.76 265.46 V263.33" stroke="#FF6A1A" stroke-width="0.9"/>
<rect x="344.11" y="253.07" width="2.7" height="25.13" fill="#1C2BC8"/>
<path d="M345.46 253.07 V248.82" stroke="#1C2BC8" stroke-width="0.9"/>
<text class="s" font-weight="bold" font-size="4.95" fill="#1a1a1a" stroke="#1a1a1a" stroke-width="0.13" text-anchor="end" transform="translate(345.81 280.2) rotate(-90)">CDC37</text>
<rect x="347.99" y="266.16" width="2.7" height="12.04" fill="#FF6A1A"/>
<path d="M349.34 266.16 V262.8" stroke="#FF6A1A" stroke-width="0.9"/>
<rect x="350.69" y="252.53" width="2.7" height="25.66" fill="#1C2BC8"/>
<path d="M352.04 252.53 V245.45" stroke="#1C2BC8" stroke-width="0.9"/>
<text class="s" font-weight="bold" font-size="4.95" fill="#1a1a1a" stroke="#1a1a1a" stroke-width="0.13" text-anchor="end" transform="translate(352.39 280.2) rotate(-90)">CALR</text>
<rect x="354.56" y="266.52" width="2.7" height="11.68" fill="#FF6A1A"/>
<path d="M355.91 266.52 V265.46" stroke="#FF6A1A" stroke-width="0.9"/>
<rect x="357.26" y="255.54" width="2.7" height="22.66" fill="#1C2BC8"/>
<path d="M358.61 255.54 V253.77" stroke="#1C2BC8" stroke-width="0.9"/>
<text class="s" font-weight="bold" font-size="4.95" fill="#1a1a1a" stroke="#1a1a1a" stroke-width="0.13" text-anchor="end" transform="translate(358.96 280.2) rotate(-90)">PHGDH</text>
<rect x="361.14" y="265.81" width="2.7" height="12.39" fill="#FF6A1A"/>
<path d="M362.49 265.81 V265.1" stroke="#FF6A1A" stroke-width="0.9"/>
<rect x="363.84" y="257.14" width="2.7" height="21.06" fill="#1C2BC8"/>
<path d="M365.19 257.14 V255.01" stroke="#1C2BC8" stroke-width="0.9"/>
<text class="s" font-weight="bold" font-size="4.95" fill="#1a1a1a" stroke="#1a1a1a" stroke-width="0.13" text-anchor="end" transform="translate(365.54 280.2) rotate(-90)">CLIC4</text>
<rect x="367.71" y="265.81" width="2.7" height="12.39" fill="#FF6A1A"/>
<path d="M369.06 265.81 V264.75" stroke="#FF6A1A" stroke-width="0.9"/>
<rect x="370.41" y="247.4" width="2.7" height="30.8" fill="#1C2BC8"/>
<path d="M371.76 247.4 V243.69" stroke="#1C2BC8" stroke-width="0.9"/>
<text class="s" font-weight="bold" font-size="4.95" fill="#1a1a1a" stroke="#1a1a1a" stroke-width="0.13" text-anchor="end" transform="translate(372.11 280.2) rotate(-90)">PARP-1</text>
<rect x="374.29" y="266.87" width="2.7" height="11.33" fill="#FF6A1A"/>
<path d="M375.64 266.87 V264.04" stroke="#FF6A1A" stroke-width="0.9"/>
<rect x="376.99" y="252.89" width="2.7" height="25.31" fill="#1C2BC8"/>
<path d="M378.34 252.89 V248.11" stroke="#1C2BC8" stroke-width="0.9"/>
<text class="s" font-weight="bold" font-size="4.95" fill="#1a1a1a" stroke="#1a1a1a" stroke-width="0.13" text-anchor="end" transform="translate(378.69 280.2) rotate(-90)">TXNDC5</text>
<rect x="380.87" y="266.52" width="2.7" height="11.68" fill="#FF6A1A"/>
<path d="M382.22 266.52 V265.81" stroke="#FF6A1A" stroke-width="0.9"/>
<rect x="383.57" y="261.03" width="2.7" height="17.17" fill="#1C2BC8"/>
<path d="M384.92 261.03 V256.78" stroke="#1C2BC8" stroke-width="0.9"/>
<text class="s" font-weight="bold" font-size="4.95" fill="#1a1a1a" stroke="#1a1a1a" stroke-width="0.13" text-anchor="end" transform="translate(385.27 280.2) rotate(-90)">PGK1</text>
<rect x="387.44" y="266.87" width="2.7" height="11.33" fill="#FF6A1A"/>
<path d="M388.79 266.87 V266.16" stroke="#FF6A1A" stroke-width="0.9"/>
<rect x="390.14" y="256.78" width="2.7" height="21.42" fill="#1C2BC8"/>
<path d="M391.49 256.78 V254.13" stroke="#1C2BC8" stroke-width="0.9"/>
<text class="s" font-weight="bold" font-size="4.95" fill="#1a1a1a" stroke="#1a1a1a" stroke-width="0.13" text-anchor="end" transform="translate(391.84 280.2) rotate(-90)">ACACA</text>
<rect x="394.02" y="266.87" width="2.7" height="11.33" fill="#FF6A1A"/>
<path d="M395.37 266.87 V264.75" stroke="#FF6A1A" stroke-width="0.9"/>
<rect x="396.72" y="258.2" width="2.7" height="20" fill="#1C2BC8"/>
<path d="M398.07 258.2 V251.83" stroke="#1C2BC8" stroke-width="0.9"/>
<text class="s" font-weight="bold" font-size="4.95" fill="#1a1a1a" stroke="#1a1a1a" stroke-width="0.13" text-anchor="end" transform="translate(398.42 280.2) rotate(-90)">HSPA1B</text>
<rect x="400.59" y="267.58" width="2.7" height="10.62" fill="#FF6A1A"/>
<path d="M401.94 267.58 V266.87" stroke="#FF6A1A" stroke-width="0.9"/>
<rect x="403.29" y="259.62" width="2.7" height="18.58" fill="#1C2BC8"/>
<path d="M404.64 259.62 V255.72" stroke="#1C2BC8" stroke-width="0.9"/>
<text class="s" font-weight="bold" font-size="4.95" fill="#1a1a1a" stroke="#1a1a1a" stroke-width="0.13" text-anchor="end" transform="translate(404.99 280.2) rotate(-90)">FASN</text>
<rect x="407.17" y="267.58" width="2.7" height="10.62" fill="#FF6A1A"/>
<path d="M408.52 267.58 V266.87" stroke="#FF6A1A" stroke-width="0.9"/>
<rect x="409.87" y="244.92" width="2.7" height="33.28" fill="#1C2BC8"/>
<path d="M411.22 244.92 V240.5" stroke="#1C2BC8" stroke-width="0.9"/>
<text class="s" font-weight="bold" font-size="4.95" fill="#1a1a1a" stroke="#1a1a1a" stroke-width="0.13" text-anchor="end" transform="translate(411.57 280.2) rotate(-90)">Galectin-1</text>
<rect x="413.75" y="267.23" width="2.7" height="10.97" fill="#FF6A1A"/>
<path d="M415.1 267.23 V266.52" stroke="#FF6A1A" stroke-width="0.9"/>
<rect x="416.45" y="246.52" width="2.7" height="31.68" fill="#1C2BC8"/>
<path d="M417.8 246.52 V239.26" stroke="#1C2BC8" stroke-width="0.9"/>
<text class="s" font-weight="bold" font-size="4.95" fill="#1a1a1a" stroke="#1a1a1a" stroke-width="0.13" text-anchor="end" transform="translate(418.15 280.2) rotate(-90)">EEF1A1</text>
<rect x="420.32" y="268.29" width="2.7" height="9.91" fill="#FF6A1A"/>
<path d="M421.67 268.29 V267.58" stroke="#FF6A1A" stroke-width="0.9"/>
<rect x="423.02" y="255.19" width="2.7" height="23.01" fill="#1C2BC8"/>
<path d="M424.37 255.19 V251.83" stroke="#1C2BC8" stroke-width="0.9"/>
<text class="s" font-weight="bold" font-size="4.95" fill="#1a1a1a" stroke="#1a1a1a" stroke-width="0.13" text-anchor="end" transform="translate(424.72 280.2) rotate(-90)">LMAN2</text>
<rect x="426.9" y="268.64" width="2.7" height="9.56" fill="#FF6A1A"/>
<path d="M428.25 268.64 V267.93" stroke="#FF6A1A" stroke-width="0.9"/>
<rect x="429.6" y="244.22" width="2.7" height="33.98" fill="#1C2BC8"/>
<path d="M430.95 244.22 V241.56" stroke="#1C2BC8" stroke-width="0.9"/>
<text class="s" font-weight="bold" font-size="4.95" fill="#1a1a1a" stroke="#1a1a1a" stroke-width="0.13" text-anchor="end" transform="translate(431.3 280.2) rotate(-90)">VDAC1</text>
<rect x="433.47" y="269.17" width="2.7" height="9.03" fill="#FF6A1A"/>
<path d="M434.82 269.17 V268.46" stroke="#FF6A1A" stroke-width="0.9"/>
<rect x="436.17" y="245.28" width="2.7" height="32.92" fill="#1C2BC8"/>
<path d="M437.52 245.28 V241.56" stroke="#1C2BC8" stroke-width="0.9"/>
<text class="s" font-weight="bold" font-size="4.95" fill="#1a1a1a" stroke="#1a1a1a" stroke-width="0.13" text-anchor="end" transform="translate(437.87 280.2) rotate(-90)">PCNA</text>
<rect x="440.05" y="269.7" width="2.7" height="8.5" fill="#FF6A1A"/>
<path d="M441.4 269.7 V269" stroke="#FF6A1A" stroke-width="0.9"/>
<rect x="442.75" y="236.6" width="2.7" height="41.59" fill="#1C2BC8"/>
<path d="M444.1 236.6 V225.28" stroke="#1C2BC8" stroke-width="0.9"/>
<text class="s" font-weight="bold" font-size="4.95" fill="#1a1a1a" stroke="#1a1a1a" stroke-width="0.13" text-anchor="end" transform="translate(444.45 280.2) rotate(-90)">HS90A</text>
<path d="M275.2 196.5 V218 M275.2 224.6 V278.65" stroke="#222" stroke-width="0.9" fill="none"/>
<path d="M274.75 278.2 H446.6" stroke="#222" stroke-width="0.9" fill="none"/>
<path d="M274.7 196.8 H277.1" stroke="#222" stroke-width="0.8"/>
<text class="s" x="273.5" y="199.3" font-size="7" font-weight="bold" text-anchor="end" fill="#111" stroke="#111" stroke-width="0.12">10</text>
<path d="M274.7 203.77 H277.1" stroke="#222" stroke-width="0.8"/>
<text class="s" x="273.5" y="206.27" font-size="7" font-weight="bold" text-anchor="end" fill="#111" stroke="#111" stroke-width="0.12">8</text>
<path d="M274.7 210.73 H277.1" stroke="#222" stroke-width="0.8"/>
<text class="s" x="273.5" y="213.23" font-size="7" font-weight="bold" text-anchor="end" fill="#111" stroke="#111" stroke-width="0.12">6</text>
<path d="M274.7 217.7 H277.1" stroke="#222" stroke-width="0.8"/>
<text class="s" x="273.5" y="220.2" font-size="7" font-weight="bold" text-anchor="end" fill="#111" stroke="#111" stroke-width="0.12">4</text>
<path d="M274.7 225.1 H277.1" stroke="#222" stroke-width="0.8"/>
<text class="s" x="273.5" y="227.6" font-size="7" font-weight="bold" text-anchor="end" fill="#111" stroke="#111" stroke-width="0.12">3</text>
<path d="M274.7 242.8 H277.1" stroke="#222" stroke-width="0.8"/>
<text class="s" x="273.5" y="245.3" font-size="7" font-weight="bold" text-anchor="end" fill="#111" stroke="#111" stroke-width="0.12">2</text>
<path d="M274.7 260.5 H277.1" stroke="#222" stroke-width="0.8"/>
<text class="s" x="273.5" y="263" font-size="7" font-weight="bold" text-anchor="end" fill="#111" stroke="#111" stroke-width="0.12">1</text>
<path d="M274.7 278.2 H277.1" stroke="#222" stroke-width="0.8"/>
<text class="s" x="273.5" y="280.7" font-size="7" font-weight="bold" text-anchor="end" fill="#111" stroke="#111" stroke-width="0.12">0</text>
<text class="s" font-weight="bold" font-size="7.2" fill="#1a1a1a" stroke="#1a1a1a" stroke-width="0.15" text-anchor="middle" transform="translate(254.3 235) rotate(-90)">Normalized</text>
<text class="s" font-weight="bold" font-size="7.2" fill="#1a1a1a" stroke="#1a1a1a" stroke-width="0.15" text-anchor="middle" transform="translate(263 234.3) rotate(-90)">protein expression</text>
<text class="s" x="361.2" y="314.2" font-size="6.8" font-weight="bold" text-anchor="middle" fill="#1a1a1a" stroke="#1a1a1a" stroke-width="0.15">Proteins</text>
<rect x="296.5" y="195.9" width="7.2" height="3.6" fill="#FF6A1A"/>
<text class="s" x="307" y="200" font-size="5.4" font-weight="bold" fill="#1a1a1a" stroke="#1a1a1a" stroke-width="0.1">6c/control</text>
<rect x="347.3" y="196.1" width="7.0" height="3.2" fill="#2743D6" stroke="#161F8C" stroke-width="0.5"/>
<text class="s" x="358.6" y="200" font-size="5.3" font-weight="bold" fill="#1a1a1a" stroke="#1a1a1a" stroke-width="0.1">NAC+6c/6c</text>
</g>
<g id="panelD">
<text class="s" x="5.2" y="333.7" font-size="12.4" font-weight="bold" fill="#111" stroke="#111" stroke-width="0.2">D</text>
<defs><linearGradient id="cb" x1="0" x2="1" y1="0" y2="0"><stop offset="0" stop-color="#06DC06"/><stop offset="0.25" stop-color="#08D408"/><stop offset="0.38" stop-color="#0A900A"/><stop offset="0.52" stop-color="#000000"/><stop offset="0.66" stop-color="#900000"/><stop offset="0.79" stop-color="#D80000"/><stop offset="1" stop-color="#EA0000"/></linearGradient></defs>
<rect x="49" y="326.1" width="129.9" height="7.9" fill="url(#cb)"/>
<text class="s" x="49.2" y="339.9" font-size="5.2" fill="#333" stroke="#333" stroke-width="0.1">-3.0</text>
<text class="s" x="115" y="339.9" font-size="5.2" text-anchor="middle" fill="#333" stroke="#333" stroke-width="0.1">1:1</text>
<text class="s" x="177.9" y="339.9" font-size="5.2" text-anchor="end" fill="#333" stroke="#333" stroke-width="0.1">3.0</text>
<text class="r" x="73.6" y="346.6" font-size="6.5" font-weight="bold" text-anchor="middle" fill="#333" stroke="#333" stroke-width="0.1">Control</text>
<text class="r" x="114.6" y="346.6" font-size="6.3" font-weight="bold" text-anchor="middle" fill="#333" stroke="#333" stroke-width="0.1">6c</text>
<text class="r" x="160.3" y="346.6" font-size="6.15" font-weight="bold" text-anchor="middle" fill="#333" stroke="#333" stroke-width="0.1">NAC+6c</text>
<rect x="49" y="347.5" width="129.9" height="198.7" fill="#400"/>
<g shape-rendering="crispEdges">
<rect x="49" y="347.5" width="21.95" height="5.67" fill="#13F221"/>
<rect x="70.65" y="347.5" width="21.95" height="5.67" fill="#13F221"/>
<rect x="92.3" y="347.5" width="21.95" height="5.67" fill="#13F221"/>
<rect x="113.95" y="347.5" width="21.95" height="5.67" fill="#13F221"/>
<rect x="135.6" y="347.5" width="21.95" height="5.67" fill="#13F522"/>
<rect x="157.25" y="347.5" width="21.65" height="5.67" fill="#13F522"/>
<rect x="49" y="352.87" width="21.95" height="5.67" fill="#0FBC1A"/>
<rect x="70.65" y="352.87" width="21.95" height="5.67" fill="#10CA1C"/>
<rect x="92.3" y="352.87" width="21.95" height="5.67" fill="#11E01F"/>
<rect x="113.95" y="352.87" width="21.95" height="5.67" fill="#11E01F"/>
<rect x="135.6" y="352.87" width="21.95" height="5.67" fill="#13F221"/>
<rect x="157.25" y="352.87" width="21.65" height="5.67" fill="#13F221"/>
<rect x="49" y="358.24" width="21.95" height="5.67" fill="#0B8D13"/>
<rect x="70.65" y="358.24" width="21.95" height="5.67" fill="#500707"/>
<rect x="92.3" y="358.24" width="21.95" height="5.67" fill="#DB0707"/>
<rect x="113.95" y="358.24" width="21.95" height="5.67" fill="#D30707"/>
<rect x="135.6" y="358.24" width="21.95" height="5.67" fill="#5A0707"/>
<rect x="157.25" y="358.24" width="21.65" height="5.67" fill="#050505"/>
<rect x="49" y="363.61" width="21.95" height="5.67" fill="#075A0C"/>
<rect x="70.65" y="363.61" width="21.95" height="5.67" fill="#050505"/>
<rect x="92.3" y="363.61" width="21.95" height="5.67" fill="#CC0707"/>
<rect x="113.95" y="363.61" width="21.95" height="5.67" fill="#DB0707"/>
<rect x="135.6" y="363.61" width="21.95" height="5.67" fill="#580707"/>
<rect x="157.25" y="363.61" width="21.65" height="5.67" fill="#8F0707"/>
<rect x="49" y="368.98" width="21.95" height="5.67" fill="#620707"/>
<rect x="70.65" y="368.98" width="21.95" height="5.67" fill="#880707"/>
<rect x="92.3" y="368.98" width="21.95" height="5.67" fill="#EA0707"/>
<rect x="113.95" y="368.98" width="21.95" height="5.67" fill="#DB0707"/>
<rect x="135.6" y="368.98" width="21.95" height="5.67" fill="#A60707"/>
<rect x="157.25" y="368.98" width="21.65" height="5.67" fill="#9E0707"/>
<rect x="49" y="374.35" width="21.95" height="5.67" fill="#800707"/>
<rect x="70.65" y="374.35" width="21.95" height="5.67" fill="#B50707"/>
<rect x="92.3" y="374.35" width="21.95" height="5.67" fill="#F00707"/>
<rect x="113.95" y="374.35" width="21.95" height="5.67" fill="#E20707"/>
<rect x="135.6" y="374.35" width="21.95" height="5.67" fill="#B50707"/>
<rect x="157.25" y="374.35" width="21.65" height="5.67" fill="#A60707"/>
<rect x="49" y="379.72" width="21.95" height="5.67" fill="#C40707"/>
<rect x="70.65" y="379.72" width="21.95" height="5.67" fill="#C40707"/>
<rect x="92.3" y="379.72" width="21.95" height="5.67" fill="#AD0707"/>
<rect x="113.95" y="379.72" width="21.95" height="5.67" fill="#C40707"/>
<rect x="135.6" y="379.72" width="21.95" height="5.67" fill="#710707"/>
<rect x="157.25" y="379.72" width="21.65" height="5.67" fill="#AD0707"/>
<rect x="49" y="385.09" width="21.95" height="5.67" fill="#C40707"/>
<rect x="70.65" y="385.09" width="21.95" height="5.67" fill="#C40707"/>
<rect x="92.3" y="385.09" width="21.95" height="5.67" fill="#A60707"/>
<rect x="113.95" y="385.09" width="21.95" height="5.67" fill="#BD0707"/>
<rect x="135.6" y="385.09" width="21.95" height="5.67" fill="#C40707"/>
<rect x="157.25" y="385.09" width="21.65" height="5.67" fill="#B50707"/>
<rect x="49" y="390.46" width="21.95" height="5.67" fill="#C80707"/>
<rect x="70.65" y="390.46" width="21.95" height="5.67" fill="#C40707"/>
<rect x="92.3" y="390.46" width="21.95" height="5.67" fill="#9E0707"/>
<rect x="113.95" y="390.46" width="21.95" height="5.67" fill="#B50707"/>
<rect x="135.6" y="390.46" width="21.95" height="5.67" fill="#9E0707"/>
<rect x="157.25" y="390.46" width="21.65" height="5.67" fill="#B50707"/>
<rect x="49" y="395.83" width="21.95" height="5.67" fill="#C40707"/>
<rect x="70.65" y="395.83" width="21.95" height="5.67" fill="#C40707"/>
<rect x="92.3" y="395.83" width="21.95" height="5.67" fill="#970707"/>
<rect x="113.95" y="395.83" width="21.95" height="5.67" fill="#B50707"/>
<rect x="135.6" y="395.83" width="21.95" height="5.67" fill="#CC0707"/>
<rect x="157.25" y="395.83" width="21.65" height="5.67" fill="#BD0707"/>
<rect x="49" y="401.2" width="21.95" height="5.67" fill="#D30707"/>
<rect x="70.65" y="401.2" width="21.95" height="5.67" fill="#CC0707"/>
<rect x="92.3" y="401.2" width="21.95" height="5.67" fill="#880707"/>
<rect x="113.95" y="401.2" width="21.95" height="5.67" fill="#B50707"/>
<rect x="135.6" y="401.2" width="21.95" height="5.67" fill="#CC0707"/>
<rect x="157.25" y="401.2" width="21.65" height="5.67" fill="#BD0707"/>
<rect x="49" y="406.57" width="21.95" height="5.67" fill="#BD0707"/>
<rect x="70.65" y="406.57" width="21.95" height="5.67" fill="#CC0707"/>
<rect x="92.3" y="406.57" width="21.95" height="5.67" fill="#C40707"/>
<rect x="113.95" y="406.57" width="21.95" height="5.67" fill="#C40707"/>
<rect x="135.6" y="406.57" width="21.95" height="5.67" fill="#BD0707"/>
<rect x="157.25" y="406.57" width="21.65" height="5.67" fill="#B50707"/>
<rect x="49" y="411.94" width="21.95" height="5.67" fill="#C40707"/>
<rect x="70.65" y="411.94" width="21.95" height="5.67" fill="#C40707"/>
<rect x="92.3" y="411.94" width="21.95" height="5.67" fill="#BD0707"/>
<rect x="113.95" y="411.94" width="21.95" height="5.67" fill="#BD0707"/>
<rect x="135.6" y="411.94" width="21.95" height="5.67" fill="#C40707"/>
<rect x="157.25" y="411.94" width="21.65" height="5.67" fill="#C40707"/>
<rect x="49" y="417.31" width="21.95" height="5.67" fill="#A60707"/>
<rect x="70.65" y="417.31" width="21.95" height="5.67" fill="#A60707"/>
<rect x="92.3" y="417.31" width="21.95" height="5.67" fill="#B50707"/>
<rect x="113.95" y="417.31" width="21.95" height="5.67" fill="#B50707"/>
<rect x="135.6" y="417.31" width="21.95" height="5.67" fill="#780707"/>
<rect x="157.25" y="417.31" width="21.65" height="5.67" fill="#8F0707"/>
<rect x="49" y="422.68" width="21.95" height="5.67" fill="#970707"/>
<rect x="70.65" y="422.68" width="21.95" height="5.67" fill="#5A0707"/>
<rect x="92.3" y="422.68" width="21.95" height="5.67" fill="#710707"/>
<rect x="113.95" y="422.68" width="21.95" height="5.67" fill="#710707"/>
<rect x="135.6" y="422.68" width="21.95" height="5.67" fill="#A60707"/>
<rect x="157.25" y="422.68" width="21.65" height="5.67" fill="#B50707"/>
<rect x="49" y="428.05" width="21.95" height="5.67" fill="#A60707"/>
<rect x="70.65" y="428.05" width="21.95" height="5.67" fill="#780707"/>
<rect x="92.3" y="428.05" width="21.95" height="5.67" fill="#C40707"/>
<rect x="113.95" y="428.05" width="21.95" height="5.67" fill="#C40707"/>
<rect x="135.6" y="428.05" width="21.95" height="5.67" fill="#A60707"/>
<rect x="157.25" y="428.05" width="21.65" height="5.67" fill="#C40707"/>
<rect x="49" y="433.42" width="21.95" height="5.67" fill="#780707"/>
<rect x="70.65" y="433.42" width="21.95" height="5.67" fill="#500707"/>
<rect x="92.3" y="433.42" width="21.95" height="5.67" fill="#B50707"/>
<rect x="113.95" y="433.42" width="21.95" height="5.67" fill="#B50707"/>
<rect x="135.6" y="433.42" width="21.95" height="5.67" fill="#710707"/>
<rect x="157.25" y="433.42" width="21.65" height="5.67" fill="#A60707"/>
<rect x="49" y="438.79" width="21.95" height="5.67" fill="#0C9D15"/>
<rect x="70.65" y="438.79" width="21.95" height="5.67" fill="#0EB419"/>
<rect x="92.3" y="438.79" width="21.95" height="5.67" fill="#0FC51B"/>
<rect x="113.95" y="438.79" width="21.95" height="5.67" fill="#0EB419"/>
<rect x="135.6" y="438.79" width="21.95" height="5.67" fill="#043807"/>
<rect x="157.25" y="438.79" width="21.65" height="5.67" fill="#0DA517"/>
<rect x="49" y="444.16" width="21.95" height="5.67" fill="#0C9615"/>
<rect x="70.65" y="444.16" width="21.95" height="5.67" fill="#0DAC18"/>
<rect x="92.3" y="444.16" width="21.95" height="5.67" fill="#05480A"/>
<rect x="113.95" y="444.16" width="21.95" height="5.67" fill="#06500B"/>
<rect x="135.6" y="444.16" width="21.95" height="5.67" fill="#0C9615"/>
<rect x="157.25" y="444.16" width="21.65" height="5.67" fill="#0DA517"/>
<rect x="49" y="449.54" width="21.95" height="5.67" fill="#0A8712"/>
<rect x="70.65" y="449.54" width="21.95" height="5.67" fill="#0DA517"/>
<rect x="92.3" y="449.54" width="21.95" height="5.67" fill="#0DA517"/>
<rect x="113.95" y="449.54" width="21.95" height="5.67" fill="#0C9D15"/>
<rect x="135.6" y="449.54" width="21.95" height="5.67" fill="#0B8E13"/>
<rect x="157.25" y="449.54" width="21.65" height="5.67" fill="#0DA517"/>
<rect x="49" y="454.91" width="21.95" height="5.67" fill="#08690E"/>
<rect x="70.65" y="454.91" width="21.95" height="5.67" fill="#0C9D15"/>
<rect x="92.3" y="454.91" width="21.95" height="5.67" fill="#08700F"/>
<rect x="113.95" y="454.91" width="21.95" height="5.67" fill="#097810"/>
<rect x="135.6" y="454.91" width="21.95" height="5.67" fill="#08690E"/>
<rect x="157.25" y="454.91" width="21.65" height="5.67" fill="#0DA517"/>
<rect x="49" y="460.28" width="21.95" height="5.67" fill="#097810"/>
<rect x="70.65" y="460.28" width="21.95" height="5.67" fill="#0C9D15"/>
<rect x="92.3" y="460.28" width="21.95" height="5.67" fill="#0A8712"/>
<rect x="113.95" y="460.28" width="21.95" height="5.67" fill="#0DA517"/>
<rect x="135.6" y="460.28" width="21.95" height="5.67" fill="#0A7F11"/>
<rect x="157.25" y="460.28" width="21.65" height="5.67" fill="#0C9615"/>
<rect x="49" y="465.65" width="21.95" height="5.67" fill="#0FC31B"/>
<rect x="70.65" y="465.65" width="21.95" height="5.67" fill="#0DA517"/>
<rect x="92.3" y="465.65" width="21.95" height="5.67" fill="#500707"/>
<rect x="113.95" y="465.65" width="21.95" height="5.67" fill="#9E0707"/>
<rect x="135.6" y="465.65" width="21.95" height="5.67" fill="#08690E"/>
<rect x="157.25" y="465.65" width="21.65" height="5.67" fill="#0EB419"/>
<rect x="49" y="471.02" width="21.95" height="5.67" fill="#13F522"/>
<rect x="70.65" y="471.02" width="21.95" height="5.67" fill="#0C9D15"/>
<rect x="92.3" y="471.02" width="21.95" height="5.67" fill="#054008"/>
<rect x="113.95" y="471.02" width="21.95" height="5.67" fill="#180404"/>
<rect x="135.6" y="471.02" width="21.95" height="5.67" fill="#097810"/>
<rect x="157.25" y="471.02" width="21.65" height="5.67" fill="#0FBC1A"/>
<rect x="49" y="476.39" width="21.95" height="5.67" fill="#041004"/>
<rect x="70.65" y="476.39" width="21.95" height="5.67" fill="#500707"/>
<rect x="92.3" y="476.39" width="21.95" height="5.67" fill="#07610D"/>
<rect x="113.95" y="476.39" width="21.95" height="5.67" fill="#300707"/>
<rect x="135.6" y="476.39" width="21.95" height="5.67" fill="#07580C"/>
<rect x="157.25" y="476.39" width="21.65" height="5.67" fill="#050505"/>
<rect x="49" y="481.76" width="21.95" height="5.67" fill="#011803"/>
<rect x="70.65" y="481.76" width="21.95" height="5.67" fill="#032805"/>
<rect x="92.3" y="481.76" width="21.95" height="5.67" fill="#08700F"/>
<rect x="113.95" y="481.76" width="21.95" height="5.67" fill="#07580C"/>
<rect x="135.6" y="481.76" width="21.95" height="5.67" fill="#054008"/>
<rect x="157.25" y="481.76" width="21.65" height="5.67" fill="#033006"/>
<rect x="49" y="487.13" width="21.95" height="5.67" fill="#08700F"/>
<rect x="70.65" y="487.13" width="21.95" height="5.67" fill="#043807"/>
<rect x="92.3" y="487.13" width="21.95" height="5.67" fill="#08690E"/>
<rect x="113.95" y="487.13" width="21.95" height="5.67" fill="#08690E"/>
<rect x="135.6" y="487.13" width="21.95" height="5.67" fill="#011803"/>
<rect x="157.25" y="487.13" width="21.65" height="5.67" fill="#054008"/>
<rect x="49" y="492.5" width="21.95" height="5.67" fill="#050505"/>
<rect x="70.65" y="492.5" width="21.95" height="5.67" fill="#300707"/>
<rect x="92.3" y="492.5" width="21.95" height="5.67" fill="#000C01"/>
<rect x="113.95" y="492.5" width="21.95" height="5.67" fill="#011002"/>
<rect x="135.6" y="492.5" width="21.95" height="5.67" fill="#050505"/>
<rect x="157.25" y="492.5" width="21.65" height="5.67" fill="#050505"/>
<rect x="49" y="497.87" width="21.95" height="5.67" fill="#050505"/>
<rect x="70.65" y="497.87" width="21.95" height="5.67" fill="#180707"/>
<rect x="92.3" y="497.87" width="21.95" height="5.67" fill="#000C01"/>
<rect x="113.95" y="497.87" width="21.95" height="5.67" fill="#011402"/>
<rect x="135.6" y="497.87" width="21.95" height="5.67" fill="#050505"/>
<rect x="157.25" y="497.87" width="21.65" height="5.67" fill="#050505"/>
<rect x="49" y="503.24" width="21.95" height="5.67" fill="#050505"/>
<rect x="70.65" y="503.24" width="21.95" height="5.67" fill="#100707"/>
<rect x="92.3" y="503.24" width="21.95" height="5.67" fill="#011402"/>
<rect x="113.95" y="503.24" width="21.95" height="5.67" fill="#011803"/>
<rect x="135.6" y="503.24" width="21.95" height="5.67" fill="#300707"/>
<rect x="157.25" y="503.24" width="21.65" height="5.67" fill="#300707"/>
<rect x="49" y="508.61" width="21.95" height="5.67" fill="#032805"/>
<rect x="70.65" y="508.61" width="21.95" height="5.67" fill="#07580C"/>
<rect x="92.3" y="508.61" width="21.95" height="5.67" fill="#07580C"/>
<rect x="113.95" y="508.61" width="21.95" height="5.67" fill="#011803"/>
<rect x="135.6" y="508.61" width="21.95" height="5.67" fill="#000C01"/>
<rect x="157.25" y="508.61" width="21.65" height="5.67" fill="#000C01"/>
<rect x="49" y="513.98" width="21.95" height="5.67" fill="#000C01"/>
<rect x="70.65" y="513.98" width="21.95" height="5.67" fill="#043407"/>
<rect x="92.3" y="513.98" width="21.95" height="5.67" fill="#000A01"/>
<rect x="113.95" y="513.98" width="21.95" height="5.67" fill="#011002"/>
<rect x="135.6" y="513.98" width="21.95" height="5.67" fill="#050505"/>
<rect x="157.25" y="513.98" width="21.65" height="5.67" fill="#050505"/>
<rect x="49" y="519.35" width="21.95" height="5.67" fill="#043407"/>
<rect x="70.65" y="519.35" width="21.95" height="5.67" fill="#07630D"/>
<rect x="92.3" y="519.35" width="21.95" height="5.67" fill="#880707"/>
<rect x="113.95" y="519.35" width="21.95" height="5.67" fill="#780707"/>
<rect x="135.6" y="519.35" width="21.95" height="5.67" fill="#043407"/>
<rect x="157.25" y="519.35" width="21.65" height="5.67" fill="#500707"/>
<rect x="49" y="524.72" width="21.95" height="5.67" fill="#050505"/>
<rect x="70.65" y="524.72" width="21.95" height="5.67" fill="#5E0707"/>
<rect x="92.3" y="524.72" width="21.95" height="5.67" fill="#8F0707"/>
<rect x="113.95" y="524.72" width="21.95" height="5.67" fill="#880707"/>
<rect x="135.6" y="524.72" width="21.95" height="5.67" fill="#440707"/>
<rect x="157.25" y="524.72" width="21.65" height="5.67" fill="#180707"/>
<rect x="49" y="530.09" width="21.95" height="5.67" fill="#100707"/>
<rect x="70.65" y="530.09" width="21.95" height="5.67" fill="#400707"/>
<rect x="92.3" y="530.09" width="21.95" height="5.67" fill="#8F0707"/>
<rect x="113.95" y="530.09" width="21.95" height="5.67" fill="#780707"/>
<rect x="135.6" y="530.09" width="21.95" height="5.67" fill="#050505"/>
<rect x="157.25" y="530.09" width="21.65" height="5.67" fill="#500707"/>
<rect x="49" y="535.46" width="21.95" height="5.67" fill="#780707"/>
<rect x="70.65" y="535.46" width="21.95" height="5.67" fill="#780707"/>
<rect x="92.3" y="535.46" width="21.95" height="5.67" fill="#180707"/>
<rect x="113.95" y="535.46" width="21.95" height="5.67" fill="#620707"/>
<rect x="135.6" y="535.46" width="21.95" height="5.67" fill="#300707"/>
<rect x="157.25" y="535.46" width="21.65" height="5.67" fill="#500707"/>
<rect x="49" y="540.83" width="21.95" height="5.37" fill="#500707"/>
<rect x="70.65" y="540.83" width="21.95" height="5.37" fill="#480707"/>
<rect x="92.3" y="540.83" width="21.95" height="5.37" fill="#180707"/>
<rect x="113.95" y="540.83" width="21.95" height="5.37" fill="#5A0707"/>
<rect x="135.6" y="540.83" width="21.95" height="5.37" fill="#580707"/>
<rect x="157.25" y="540.83" width="21.65" height="5.37" fill="#500707"/>
</g>
<text class="s" x="182.3" y="352.09" font-size="5.4" fill="#111">CALR</text>
<text class="s" x="182.3" y="357.46" font-size="5.4" fill="#111">LMAN2</text>
<text class="s" x="182.3" y="362.83" font-size="5.4" fill="#111">SQTSM1</text>
<text class="s" x="182.3" y="368.2" font-size="5.4" fill="#111">CTSD</text>
<text class="s" x="182.3" y="373.57" font-size="5.4" fill="#111">RPS27A</text>
<text class="s" x="182.3" y="378.94" font-size="5.4" fill="#111">LAMP1</text>
<text class="s" x="182.3" y="384.31" font-size="5.4" fill="#111">HMGB1</text>
<text class="s" x="182.3" y="389.68" font-size="5.4" fill="#111">CCT8</text>
<text class="s" x="182.3" y="395.05" font-size="5.4" fill="#111">PGK1</text>
<text class="s" x="182.3" y="400.42" font-size="5.4" fill="#111">DEK</text>
<text class="s" x="182.3" y="405.79" font-size="5.4" fill="#111">HS90A</text>
<text class="s" x="182.3" y="411.16" font-size="5.4" fill="#111">HSPA1B</text>
<text class="s" x="182.3" y="416.53" font-size="5.4" fill="#111">TXNDC5</text>
<text class="s" x="182.3" y="421.9" font-size="5.4" fill="#111">CDC37</text>
<text class="s" x="182.3" y="427.27" font-size="5.4" fill="#111">PARP-1</text>
<text class="s" x="182.3" y="432.64" font-size="5.4" fill="#111">Rab-7a</text>
<text class="s" x="182.3" y="438.01" font-size="5.4" fill="#111">ACADM</text>
<text class="s" x="182.3" y="443.38" font-size="5.4" fill="#111">MAD2L1</text>
<text class="s" x="182.3" y="448.75" font-size="5.4" fill="#111">VPP1</text>
<text class="s" x="182.3" y="454.12" font-size="5.4" fill="#111">ACACA</text>
<text class="s" x="182.3" y="459.49" font-size="5.4" fill="#111">TP53BP1</text>
<text class="s" x="182.3" y="464.86" font-size="5.4" fill="#111">PCNA</text>
<text class="s" x="182.3" y="470.23" font-size="5.4" fill="#111">CTSL</text>
<text class="s" x="182.3" y="475.6" font-size="5.4" fill="#111">APLP2</text>
<text class="s" x="182.3" y="480.97" font-size="5.4" fill="#111">ERF3A</text>
<text class="s" x="182.3" y="486.34" font-size="5.4" fill="#111">CLIC4</text>
<text class="s" x="182.3" y="491.71" font-size="5.4" fill="#111">Galectin-1</text>
<text class="s" x="182.3" y="497.08" font-size="5.4" fill="#111">PHGDH</text>
<text class="s" x="182.3" y="502.45" font-size="5.4" fill="#111">FASN</text>
<text class="s" x="182.3" y="507.82" font-size="5.4" fill="#111">Desmoplakin</text>
<text class="s" x="182.3" y="513.19" font-size="5.4" fill="#111">VDAC1</text>
<text class="s" x="182.3" y="518.56" font-size="5.4" fill="#111">Chaperonin</text>
<text class="s" x="182.3" y="523.93" font-size="5.4" fill="#111">ATP2C1</text>
<text class="s" x="182.3" y="529.3" font-size="5.4" fill="#111">SRRM2</text>
<text class="s" x="182.3" y="534.67" font-size="5.4" fill="#111">ACOT2</text>
<text class="s" x="182.3" y="540.04" font-size="5.4" fill="#111">EEF1A1</text>
<text class="s" x="182.3" y="545.41" font-size="5.4" fill="#111">Stathmin</text>
<path d="M49 360.93 H45.6 V366.3 H49 M49 371.67 H45.6 V377.04 H49 M49 387.78 H46.6 V393.15 H49 M49 382.41 H44.2 V390.46 H46.6 M49 398.52 H46.6 V403.89 H49 M49 409.26 H46 V414.63 H49 M46.6 401.2 H44 V411.94 H46 M44.2 386.43 H41.9 V406.57 H44 M49 420 H45.5 V425.37 H49 M49 430.74 H44.6 V436.11 H49 M45.5 422.68 H41.2 V433.42 H44.6 M41.9 396.5 H38.6 V428.05 H41.2 M45.6 374.35 H33.4 V412.28 H38.6 M45.6 363.61 H28 V393.32 H33.4 M49 446.85 H45 V452.22 H49 M49 457.59 H44.5 V462.96 H49 M45 449.54 H41 V460.28 H44.5 M49 441.48 H37.9 V454.91 H41 M49 468.33 H44 V473.7 H49 M37.9 448.19 H32.7 V471.02 H44 M49 484.44 H44.5 V489.81 H49 M49 500.55 H47.2 V505.92 H49 M49 495.18 H46 V503.24 H47.2 M49 511.29 H45.5 V516.66 H49 M46 499.21 H43.5 V513.98 H45.5 M44.5 487.13 H40.8 V506.59 H43.5 M49 479.07 H37.9 V496.86 H40.8 M49 527.4 H46 V532.77 H49 M49 522.03 H44 V530.09 H46 M49 538.14 H45.5 V543.51 H49 M44 526.06 H40 V540.83 H45.5 M37.9 487.97 H33.8 V533.45 H40 M32.7 459.6 H27.6 V510.71 H33.8 M28 378.46 H22.5 V485.16 H27.6 M49 355.56 H16.7 V431.81 H22.5 M49 350.19 H11.6 V393.68 H16.7" fill="none" stroke="#8585EC" stroke-width="0.7"/>
</g>
<g id="panelE">
<text class="s" x="243.3" y="333.9" font-size="12.4" font-weight="bold" fill="#111" stroke="#111" stroke-width="0.2">E</text>
<defs>
<radialGradient id="nr" cx="0.45" cy="0.40" r="0.62" fx="0.42" fy="0.30"><stop offset="0" stop-color="#FBD3D8"/><stop offset="0.55" stop-color="#D9586C"/><stop offset="1" stop-color="#8A2236"/></radialGradient>
<radialGradient id="ng" cx="0.45" cy="0.40" r="0.62" fx="0.42" fy="0.30"><stop offset="0" stop-color="#D2F2CE"/><stop offset="0.55" stop-color="#60B860"/><stop offset="1" stop-color="#2A6A2C"/></radialGradient>
<radialGradient id="nc" cx="0.45" cy="0.40" r="0.62" fx="0.42" fy="0.30"><stop offset="0" stop-color="#DFF6F2"/><stop offset="0.55" stop-color="#8CD0C8"/><stop offset="1" stop-color="#2F7D78"/></radialGradient>
<radialGradient id="ny" cx="0.45" cy="0.40" r="0.62" fx="0.42" fy="0.30"><stop offset="0" stop-color="#F8F8DE"/><stop offset="0.55" stop-color="#D3D38A"/><stop offset="1" stop-color="#85853F"/></radialGradient>
<radialGradient id="nb" cx="0.45" cy="0.40" r="0.62" fx="0.42" fy="0.30"><stop offset="0" stop-color="#CACAF6"/><stop offset="0.55" stop-color="#5656C8"/><stop offset="1" stop-color="#1E1E72"/></radialGradient>
</defs>
<path d="M308.31 345.51 L341.41 341.71" stroke="#BACE52" stroke-width="0.85" fill="none"/>
<path d="M308.4 346.3 L341.5 342.5" stroke="#DB6BDB" stroke-width="0.85" fill="none"/>
<path d="M308.49 347.09 L341.59 343.29" stroke="#444444" stroke-width="0.85" fill="none"/>
<path d="M308.61 346.64 L279.41 364.34" stroke="#BACE52" stroke-width="0.85" fill="none"/>
<path d="M308.19 345.96 L278.99 363.66" stroke="#444444" stroke-width="0.85" fill="none"/>
<path d="M308.99 346.84 L264.39 395.24" stroke="#BACE52" stroke-width="0.85" fill="none"/>
<path d="M308.4 346.3 L263.8 394.7" stroke="#DB6BDB" stroke-width="0.85" fill="none"/>
<path d="M307.81 345.76 L263.21 394.16" stroke="#444444" stroke-width="0.85" fill="none"/>
<path d="M341.63 342.88 L279.33 364.38" stroke="#BACE52" stroke-width="0.85" fill="none"/>
<path d="M341.37 342.12 L279.07 363.62" stroke="#444444" stroke-width="0.85" fill="none"/>
<path d="M341.72 342.83 L264.02 395.03" stroke="#DB6BDB" stroke-width="0.85" fill="none"/>
<path d="M341.28 342.17 L263.58 394.37" stroke="#BACE52" stroke-width="0.85" fill="none"/>
<path d="M279.92 364.36 L264.52 395.06" stroke="#BACE52" stroke-width="0.85" fill="none"/>
<path d="M279.2 364 L263.8 394.7" stroke="#DB6BDB" stroke-width="0.85" fill="none"/>
<path d="M278.48 363.64 L263.08 394.34" stroke="#444444" stroke-width="0.85" fill="none"/>
<path d="M310.67 384.96 L377.77 434.36" stroke="#DB6BDB" stroke-width="0.85" fill="none"/>
<path d="M310.2 385.6 L377.3 435" stroke="#EE8FA8" stroke-width="0.85" fill="none"/>
<path d="M309.73 386.24 L376.83 435.64" stroke="#EE8FA8" stroke-width="0.85" fill="none"/>
<path d="M347.28 384.78 L377.98 434.58" stroke="#62CBEA" stroke-width="0.85" fill="none"/>
<path d="M346.6 385.2 L377.3 435" stroke="#DB6BDB" stroke-width="0.85" fill="none"/>
<path d="M345.92 385.62 L376.62 435.42" stroke="#BACE52" stroke-width="0.85" fill="none"/>
<path d="M346.97 385.35 L329.37 427.55" stroke="#62CBEA" stroke-width="0.85" fill="none"/>
<path d="M346.23 385.05 L328.63 427.25" stroke="#444444" stroke-width="0.85" fill="none"/>
<path d="M346.6 385.2 L382.8 350" stroke="#8A8A8A" stroke-width="0.85" fill="none"/>
<path d="M364.83 405.97 L378.03 434.67" stroke="#DB6BDB" stroke-width="0.85" fill="none"/>
<path d="M364.1 406.3 L377.3 435" stroke="#62CBEA" stroke-width="0.85" fill="none"/>
<path d="M363.37 406.63 L376.57 435.33" stroke="#BACE52" stroke-width="0.85" fill="none"/>
<path d="M383.56 350.25 L364.86 406.55" stroke="#62CBEA" stroke-width="0.85" fill="none"/>
<path d="M382.8 350 L364.1 406.3" stroke="#DB6BDB" stroke-width="0.85" fill="none"/>
<path d="M382.04 349.75 L363.34 406.05" stroke="#BACE52" stroke-width="0.85" fill="none"/>
<path d="M383.6 350.05 L378.1 435.05" stroke="#DB6BDB" stroke-width="0.85" fill="none"/>
<path d="M382.8 350 L377.3 435" stroke="#62CBEA" stroke-width="0.85" fill="none"/>
<path d="M382 349.95 L376.5 434.95" stroke="#9494E6" stroke-width="0.85" fill="none"/>
<path d="M383.03 349.67 L401.93 363.17" stroke="#BACE52" stroke-width="0.85" fill="none"/>
<path d="M382.57 350.33 L401.47 363.83" stroke="#DB6BDB" stroke-width="0.85" fill="none"/>
<path d="M402.3 364.03 L364.7 406.83" stroke="#DB6BDB" stroke-width="0.85" fill="none"/>
<path d="M401.7 363.5 L364.1 406.3" stroke="#62CBEA" stroke-width="0.85" fill="none"/>
<path d="M401.1 362.97 L363.5 405.77" stroke="#BACE52" stroke-width="0.85" fill="none"/>
<path d="M402.46 363.76 L378.06 435.26" stroke="#62CBEA" stroke-width="0.85" fill="none"/>
<path d="M401.7 363.5 L377.3 435" stroke="#DB6BDB" stroke-width="0.85" fill="none"/>
<path d="M400.94 363.24 L376.54 434.74" stroke="#BACE52" stroke-width="0.85" fill="none"/>
<path d="M401.7 363.5 L412.2 382.1" stroke="#BACE52" stroke-width="0.85" fill="none"/>
<path d="M412.2 382.1 L419.7 399.7" stroke="#BACE52" stroke-width="0.85" fill="none"/>
<path d="M419.7 399.7 L430 419.7" stroke="#BACE52" stroke-width="0.85" fill="none"/>
<path d="M420.21 400.31 L377.81 435.61" stroke="#DB6BDB" stroke-width="0.85" fill="none"/>
<path d="M419.7 399.7 L377.3 435" stroke="#62CBEA" stroke-width="0.85" fill="none"/>
<path d="M419.19 399.09 L376.79 434.39" stroke="#9494E6" stroke-width="0.85" fill="none"/>
<path d="M430.22 420.47 L377.52 435.77" stroke="#DB6BDB" stroke-width="0.85" fill="none"/>
<path d="M430 419.7 L377.3 435" stroke="#62CBEA" stroke-width="0.85" fill="none"/>
<path d="M429.78 418.93 L377.08 434.23" stroke="#9494E6" stroke-width="0.85" fill="none"/>
<path d="M329.12 426.61 L377.42 434.21" stroke="#62CBEA" stroke-width="0.85" fill="none"/>
<path d="M329 427.4 L377.3 435" stroke="#DB6BDB" stroke-width="0.85" fill="none"/>
<path d="M328.88 428.19 L377.18 435.79" stroke="#BACE52" stroke-width="0.85" fill="none"/>
<path d="M294.32 419.09 L338.22 456.39" stroke="#DB6BDB" stroke-width="0.85" fill="none"/>
<path d="M293.8 419.7 L337.7 457" stroke="#A47AD8" stroke-width="0.85" fill="none"/>
<path d="M293.28 420.31 L337.18 457.61" stroke="#BACE52" stroke-width="0.85" fill="none"/>
<path d="M293.8 419.7 L289.3 447.3" stroke="#BACE52" stroke-width="0.85" fill="none"/>
<path d="M289.38 446.91 L337.78 456.61" stroke="#DB6BDB" stroke-width="0.85" fill="none"/>
<path d="M289.22 447.69 L337.62 457.39" stroke="#BACE52" stroke-width="0.85" fill="none"/>
<path d="M289.19 446.51 L377.19 434.21" stroke="#BACE52" stroke-width="0.85" fill="none"/>
<path d="M289.3 447.3 L377.3 435" stroke="#DB6BDB" stroke-width="0.85" fill="none"/>
<path d="M289.41 448.09 L377.41 435.79" stroke="#62CBEA" stroke-width="0.85" fill="none"/>
<path d="M337.31 456.3 L376.91 434.3" stroke="#DB6BDB" stroke-width="0.85" fill="none"/>
<path d="M337.7 457 L377.3 435" stroke="#BACE52" stroke-width="0.85" fill="none"/>
<path d="M338.09 457.7 L377.69 435.7" stroke="#62CBEA" stroke-width="0.85" fill="none"/>
<path d="M378.08 434.83 L384.58 463.83" stroke="#DB6BDB" stroke-width="0.85" fill="none"/>
<path d="M377.3 435 L383.8 464" stroke="#62CBEA" stroke-width="0.85" fill="none"/>
<path d="M376.52 435.17 L383.02 464.17" stroke="#BACE52" stroke-width="0.85" fill="none"/>
<path d="M338.47 456.78 L348.57 492.38" stroke="#DB6BDB" stroke-width="0.85" fill="none"/>
<path d="M337.7 457 L347.8 492.6" stroke="#BACE52" stroke-width="0.85" fill="none"/>
<path d="M336.93 457.22 L347.03 492.82" stroke="#444444" stroke-width="0.85" fill="none"/>
<path d="M338.4 456.03 L380.2 486.23" stroke="#DB6BDB" stroke-width="0.85" fill="none"/>
<path d="M337.93 456.68 L379.73 486.88" stroke="#BACE52" stroke-width="0.85" fill="none"/>
<path d="M337.47 457.32 L379.27 487.52" stroke="#62CBEA" stroke-width="0.85" fill="none"/>
<path d="M337 457.97 L378.8 488.17" stroke="#444444" stroke-width="0.85" fill="none"/>
<path d="M338.03 457.22 L311.73 496.62" stroke="#DB6BDB" stroke-width="0.85" fill="none"/>
<path d="M337.37 456.78 L311.07 496.18" stroke="#BACE52" stroke-width="0.85" fill="none"/>
<path d="M337.86 457.37 L300.16 473.97" stroke="#DB6BDB" stroke-width="0.85" fill="none"/>
<path d="M337.54 456.63 L299.84 473.23" stroke="#62CBEA" stroke-width="0.85" fill="none"/>
<path d="M338.09 457.09 L320.59 534.09" stroke="#DB6BDB" stroke-width="0.85" fill="none"/>
<path d="M337.31 456.91 L319.81 533.91" stroke="#BACE52" stroke-width="0.85" fill="none"/>
<path d="M338.49 456.89 L348.79 534.39" stroke="#DB6BDB" stroke-width="0.85" fill="none"/>
<path d="M337.7 457 L348 534.5" stroke="#BACE52" stroke-width="0.85" fill="none"/>
<path d="M336.91 457.11 L347.21 534.61" stroke="#62CBEA" stroke-width="0.85" fill="none"/>
<path d="M338.38 456.58 L383.28 529.98" stroke="#DB6BDB" stroke-width="0.85" fill="none"/>
<path d="M337.7 457 L382.6 530.4" stroke="#BACE52" stroke-width="0.85" fill="none"/>
<path d="M337.02 457.42 L381.92 530.82" stroke="#62CBEA" stroke-width="0.85" fill="none"/>
<path d="M347.73 492.21 L379.43 486.81" stroke="#BACE52" stroke-width="0.85" fill="none"/>
<path d="M347.87 492.99 L379.57 487.59" stroke="#DB6BDB" stroke-width="0.85" fill="none"/>
<path d="M348.6 492.6 L348.8 534.5" stroke="#DB6BDB" stroke-width="0.85" fill="none"/>
<path d="M347.8 492.6 L348 534.5" stroke="#BACE52" stroke-width="0.85" fill="none"/>
<path d="M347 492.6 L347.2 534.5" stroke="#62CBEA" stroke-width="0.85" fill="none"/>
<path d="M348.13 492.82 L320.53 534.22" stroke="#BACE52" stroke-width="0.85" fill="none"/>
<path d="M347.47 492.38 L319.87 533.78" stroke="#444444" stroke-width="0.85" fill="none"/>
<path d="M347.8 492.6 L311.4 496.4" stroke="#BACE52" stroke-width="0.85" fill="none"/>
<path d="M348.09 492.33 L382.89 530.13" stroke="#BACE52" stroke-width="0.85" fill="none"/>
<path d="M347.51 492.87 L382.31 530.67" stroke="#DB6BDB" stroke-width="0.85" fill="none"/>
<path d="M320.21 533.2 L348.01 533.7" stroke="#DB6BDB" stroke-width="0.85" fill="none"/>
<path d="M320.2 534 L348 534.5" stroke="#BACE52" stroke-width="0.85" fill="none"/>
<path d="M320.19 534.8 L347.99 535.3" stroke="#62CBEA" stroke-width="0.85" fill="none"/>
<path d="M347.91 533.71 L382.51 529.61" stroke="#DB6BDB" stroke-width="0.85" fill="none"/>
<path d="M348 534.5 L382.6 530.4" stroke="#BACE52" stroke-width="0.85" fill="none"/>
<path d="M348.09 535.29 L382.69 531.19" stroke="#62CBEA" stroke-width="0.85" fill="none"/>
<path d="M259.59 475 L266.69 501.3" stroke="#86D286" stroke-width="0.85" fill="none"/>
<path d="M258.81 475.2 L265.91 501.5" stroke="#62CBEA" stroke-width="0.85" fill="none"/>
<path d="M259.51 474.85 L298.01 522.45" stroke="#86D286" stroke-width="0.85" fill="none"/>
<path d="M258.89 475.35 L297.39 522.95" stroke="#62CBEA" stroke-width="0.85" fill="none"/>
<path d="M266.75 500.74 L298.15 522.04" stroke="#86D286" stroke-width="0.85" fill="none"/>
<path d="M266.3 501.4 L297.7 522.7" stroke="#62CBEA" stroke-width="0.85" fill="none"/>
<path d="M265.85 502.06 L297.25 523.36" stroke="#9494E6" stroke-width="0.85" fill="none"/>
<path d="M410.05 442.9 L424.55 468.1" stroke="#62CBEA" stroke-width="0.85" fill="none"/>
<path d="M409.35 443.3 L423.85 468.5" stroke="#C8C87A" stroke-width="0.85" fill="none"/>
<path d="M289.66 447.14 L311.76 496.24" stroke="#DB6BDB" stroke-width="0.85" fill="none"/>
<path d="M288.94 447.46 L311.04 496.56" stroke="#BACE52" stroke-width="0.85" fill="none"/>
<path d="M308.4 346.3 L310.2 385.6" stroke="#DB6BDB" stroke-width="0.85" stroke-dasharray="1.1 1.2" fill="none"/>
<path d="M308.65 346.05 L346.85 384.95" stroke="#AFBC48" stroke-width="0.85" stroke-dasharray="1.1 1.2" fill="none"/>
<path d="M308.15 346.55 L346.35 385.45" stroke="#85866E" stroke-width="0.85" stroke-dasharray="1.1 1.2" fill="none"/>
<path d="M341.78 342.71 L310.48 385.81" stroke="#AFBC48" stroke-width="0.85" stroke-dasharray="1.1 1.2" fill="none"/>
<path d="M341.22 342.29 L309.92 385.39" stroke="#85866E" stroke-width="0.85" stroke-dasharray="1.1 1.2" fill="none"/>
<path d="M341.85 342.46 L346.95 385.16" stroke="#AFBC48" stroke-width="0.85" stroke-dasharray="1.1 1.2" fill="none"/>
<path d="M341.15 342.54 L346.25 385.24" stroke="#85866E" stroke-width="0.85" stroke-dasharray="1.1 1.2" fill="none"/>
<path d="M341.8 342.68 L294.1 419.88" stroke="#AFBC48" stroke-width="0.85" stroke-dasharray="1.1 1.2" fill="none"/>
<path d="M341.2 342.32 L293.5 419.52" stroke="#85866E" stroke-width="0.85" stroke-dasharray="1.1 1.2" fill="none"/>
<path d="M263.67 394.01 L310.07 384.91" stroke="#DB6BDB" stroke-width="0.85" stroke-dasharray="1.1 1.2" fill="none"/>
<path d="M263.8 394.7 L310.2 385.6" stroke="#8A8A8A" stroke-width="0.85" stroke-dasharray="1.1 1.2" fill="none"/>
<path d="M263.93 395.39 L310.33 386.29" stroke="#DB6BDB" stroke-width="0.85" stroke-dasharray="1.1 1.2" fill="none"/>
<path d="M263.76 394.35 L346.56 384.85" stroke="#AFBC48" stroke-width="0.85" stroke-dasharray="1.1 1.2" fill="none"/>
<path d="M263.84 395.05 L346.64 385.55" stroke="#85866E" stroke-width="0.85" stroke-dasharray="1.1 1.2" fill="none"/>
<path d="M264.02 394.43 L294.02 419.43" stroke="#AFBC48" stroke-width="0.85" stroke-dasharray="1.1 1.2" fill="none"/>
<path d="M263.58 394.97 L293.58 419.97" stroke="#85866E" stroke-width="0.85" stroke-dasharray="1.1 1.2" fill="none"/>
<path d="M263.8 394.7 L259.2 475.1" stroke="#DB6BDB" stroke-width="0.85" stroke-dasharray="1.1 1.2" fill="none"/>
<path d="M263.96 394.39 L329.16 427.09" stroke="#AFBC48" stroke-width="0.85" stroke-dasharray="1.1 1.2" fill="none"/>
<path d="M263.64 395.01 L328.84 427.71" stroke="#85866E" stroke-width="0.85" stroke-dasharray="1.1 1.2" fill="none"/>
<path d="M252.96 423.65 L293.76 419.35" stroke="#4A4A4A" stroke-width="0.85" stroke-dasharray="1.1 1.2" fill="none"/>
<path d="M253.04 424.35 L293.84 420.05" stroke="#9A9C80" stroke-width="0.85" stroke-dasharray="1.1 1.2" fill="none"/>
<path d="M310.52 385.75 L294.12 419.85" stroke="#AFBC48" stroke-width="0.85" stroke-dasharray="1.1 1.2" fill="none"/>
<path d="M309.88 385.45 L293.48 419.55" stroke="#85866E" stroke-width="0.85" stroke-dasharray="1.1 1.2" fill="none"/>
<path d="M310.2 385.25 L346.6 384.85" stroke="#AFBC48" stroke-width="0.85" stroke-dasharray="1.1 1.2" fill="none"/>
<path d="M310.2 385.95 L346.6 385.55" stroke="#85866E" stroke-width="0.85" stroke-dasharray="1.1 1.2" fill="none"/>
<path d="M293.87 419.36 L329.07 427.06" stroke="#AFBC48" stroke-width="0.85" stroke-dasharray="1.1 1.2" fill="none"/>
<path d="M293.73 420.04 L328.93 427.74" stroke="#85866E" stroke-width="0.85" stroke-dasharray="1.1 1.2" fill="none"/>
<path d="M293.86 419.36 L377.36 434.66" stroke="#AFBC48" stroke-width="0.85" stroke-dasharray="1.1 1.2" fill="none"/>
<path d="M293.74 420.04 L377.24 435.34" stroke="#85866E" stroke-width="0.85" stroke-dasharray="1.1 1.2" fill="none"/>
<path d="M293.73 419.36 L364.03 405.96" stroke="#AFBC48" stroke-width="0.85" stroke-dasharray="1.1 1.2" fill="none"/>
<path d="M293.87 420.04 L364.17 406.64" stroke="#85866E" stroke-width="0.85" stroke-dasharray="1.1 1.2" fill="none"/>
<path d="M346.95 385.24 L338.05 457.04" stroke="#4A4A4A" stroke-width="0.85" stroke-dasharray="1.1 1.2" fill="none"/>
<path d="M346.25 385.16 L337.35 456.96" stroke="#9A9C80" stroke-width="0.85" stroke-dasharray="1.1 1.2" fill="none"/>
<path d="M346.47 384.87 L401.57 363.17" stroke="#DB6BDB" stroke-width="0.85" stroke-dasharray="1.1 1.2" fill="none"/>
<path d="M346.73 385.53 L401.83 363.83" stroke="#DB6BDB" stroke-width="0.85" stroke-dasharray="1.1 1.2" fill="none"/>
<path d="M346.6 385.2 L364.1 406.3" stroke="#DB6BDB" stroke-width="0.85" stroke-dasharray="1.1 1.2" fill="none"/>
<path d="M249.38 449.65 L289.28 446.95" stroke="#AFBC48" stroke-width="0.85" stroke-dasharray="1.1 1.2" fill="none"/>
<path d="M249.42 450.35 L289.32 447.65" stroke="#85866E" stroke-width="0.85" stroke-dasharray="1.1 1.2" fill="none"/>
<path d="M258.96 474.84 L289.06 447.04" stroke="#AFBC48" stroke-width="0.85" stroke-dasharray="1.1 1.2" fill="none"/>
<path d="M259.44 475.36 L289.54 447.56" stroke="#85866E" stroke-width="0.85" stroke-dasharray="1.1 1.2" fill="none"/>
<path d="M259.19 474.75 L299.99 473.25" stroke="#AFBC48" stroke-width="0.85" stroke-dasharray="1.1 1.2" fill="none"/>
<path d="M259.21 475.45 L300.01 473.95" stroke="#85866E" stroke-width="0.85" stroke-dasharray="1.1 1.2" fill="none"/>
<path d="M297.86 522.39 L320.36 533.69" stroke="#AFBC48" stroke-width="0.85" stroke-dasharray="1.1 1.2" fill="none"/>
<path d="M297.54 523.01 L320.04 534.31" stroke="#85866E" stroke-width="0.85" stroke-dasharray="1.1 1.2" fill="none"/>
<path d="M259.47 474.88 L297.97 522.48" stroke="#4A4A4A" stroke-width="0.85" stroke-dasharray="1.1 1.2" fill="none"/>
<path d="M258.93 475.32 L297.43 522.92" stroke="#9A9C80" stroke-width="0.85" stroke-dasharray="1.1 1.2" fill="none"/>
<path d="M329.34 427.3 L348.14 492.5" stroke="#AFBC48" stroke-width="0.85" stroke-dasharray="1.1 1.2" fill="none"/>
<path d="M328.66 427.5 L347.46 492.7" stroke="#85866E" stroke-width="0.85" stroke-dasharray="1.1 1.2" fill="none"/>
<path d="M328.82 427.1 L363.92 406" stroke="#DB6BDB" stroke-width="0.85" stroke-dasharray="1.1 1.2" fill="none"/>
<path d="M329.18 427.7 L364.28 406.6" stroke="#DB6BDB" stroke-width="0.85" stroke-dasharray="1.1 1.2" fill="none"/>
<path d="M329.34 427.3 L338.04 456.9" stroke="#DB6BDB" stroke-width="0.85" stroke-dasharray="1.1 1.2" fill="none"/>
<path d="M328.66 427.5 L337.36 457.1" stroke="#DB6BDB" stroke-width="0.85" stroke-dasharray="1.1 1.2" fill="none"/>
<path d="M384.14 464.06 L379.84 487.26" stroke="#DB6BDB" stroke-width="0.85" stroke-dasharray="1.1 1.2" fill="none"/>
<path d="M383.46 463.94 L379.16 487.14" stroke="#8A8A8A" stroke-width="0.85" stroke-dasharray="1.1 1.2" fill="none"/>
<path d="M383.8 464 L404.2 510.2" stroke="#DB6BDB" stroke-width="0.85" stroke-dasharray="1.1 1.2" fill="none"/>
<path d="M383.8 464 L382.6 530.4" stroke="#DB6BDB" stroke-width="0.85" stroke-dasharray="1.1 1.2" fill="none"/>
<path d="M379.85 487.17 L382.95 530.37" stroke="#DB6BDB" stroke-width="0.85" stroke-dasharray="1.1 1.2" fill="none"/>
<path d="M379.15 487.23 L382.25 530.43" stroke="#DB6BDB" stroke-width="0.85" stroke-dasharray="1.1 1.2" fill="none"/>
<path d="M377.65 434.99 L379.85 487.19" stroke="#AFBC48" stroke-width="0.85" stroke-dasharray="1.1 1.2" fill="none"/>
<path d="M376.95 435.01 L379.15 487.21" stroke="#85866E" stroke-width="0.85" stroke-dasharray="1.1 1.2" fill="none"/>
<path d="M377.61 435.16 L348.11 492.76" stroke="#4A4A4A" stroke-width="0.85" stroke-dasharray="1.1 1.2" fill="none"/>
<path d="M376.99 434.84 L347.49 492.44" stroke="#9A9C80" stroke-width="0.85" stroke-dasharray="1.1 1.2" fill="none"/>
<path d="M364.41 406.46 L338.01 457.16" stroke="#4A4A4A" stroke-width="0.85" stroke-dasharray="1.1 1.2" fill="none"/>
<path d="M363.79 406.14 L337.39 456.84" stroke="#9A9C80" stroke-width="0.85" stroke-dasharray="1.1 1.2" fill="none"/>
<path d="M310.52 385.46 L329.32 427.26" stroke="#AFBC48" stroke-width="0.85" stroke-dasharray="1.1 1.2" fill="none"/>
<path d="M309.88 385.74 L328.68 427.54" stroke="#85866E" stroke-width="0.85" stroke-dasharray="1.1 1.2" fill="none"/>
<path d="M337.75 456.65 L383.85 463.65" stroke="#DB6BDB" stroke-width="0.85" stroke-dasharray="1.1 1.2" fill="none"/>
<path d="M337.65 457.35 L383.75 464.35" stroke="#DB6BDB" stroke-width="0.85" stroke-dasharray="1.1 1.2" fill="none"/>
<path d="M347.58 492.33 L383.58 463.73" stroke="#DB6BDB" stroke-width="0.85" stroke-dasharray="1.1 1.2" fill="none"/>
<path d="M348.02 492.87 L384.02 464.27" stroke="#BACE52" stroke-width="0.85" stroke-dasharray="1.1 1.2" fill="none"/>
<path d="M310.53 385.47 L338.03 456.87" stroke="#AFBC48" stroke-width="0.85" stroke-dasharray="1.1 1.2" fill="none"/>
<path d="M309.87 385.73 L337.37 457.13" stroke="#85866E" stroke-width="0.85" stroke-dasharray="1.1 1.2" fill="none"/>
<path d="M293.61 419.41 L346.41 384.91" stroke="#AFBC48" stroke-width="0.85" stroke-dasharray="1.1 1.2" fill="none"/>
<path d="M293.99 419.99 L346.79 385.49" stroke="#85866E" stroke-width="0.85" stroke-dasharray="1.1 1.2" fill="none"/>
<ellipse cx="308.9" cy="353.6" rx="7.2" ry="2.0" fill="#000" fill-opacity="0.14"/>
<circle cx="308.4" cy="346.3" r="7.4" fill="url(#nc)" stroke="#2F7D78" stroke-width="0.55"/>
<path d="M305.8 347.1 q1.6 -1.4 2.6 0.6 t2.2 1.0 M306.8 348.9 q1.0 1.8 2.6 0.8" fill="none" stroke="#5A8A88" stroke-opacity="0.45" stroke-width="0.7"/>
<ellipse cx="307.8" cy="342" rx="4.6" ry="2.3" fill="#fff" fill-opacity="0.5"/>
<ellipse cx="342" cy="349.8" rx="7.2" ry="2.0" fill="#000" fill-opacity="0.14"/>
<circle cx="341.5" cy="342.5" r="7.4" fill="url(#nc)" stroke="#2F7D78" stroke-width="0.55"/>
<path d="M338.9 343.3 q1.6 -1.4 2.6 0.6 t2.2 1.0 M339.9 345.1 q1.0 1.8 2.6 0.8" fill="none" stroke="#5A8A88" stroke-opacity="0.45" stroke-width="0.7"/>
<ellipse cx="340.9" cy="338.2" rx="4.6" ry="2.3" fill="#fff" fill-opacity="0.5"/>
<ellipse cx="363.9" cy="352.3" rx="7.2" ry="2.0" fill="#000" fill-opacity="0.14"/>
<circle cx="363.4" cy="345" r="7.4" fill="url(#ny)" stroke="#85853F" stroke-width="0.55"/>
<path d="M360.8 345.8 q1.6 -1.4 2.6 0.6 t2.2 1.0 M361.8 347.6 q1.0 1.8 2.6 0.8" fill="none" stroke="#C0607E" stroke-opacity="0.45" stroke-width="0.7"/>
<ellipse cx="362.8" cy="340.7" rx="4.6" ry="2.3" fill="#fff" fill-opacity="0.5"/>
<ellipse cx="383.3" cy="357.3" rx="7.2" ry="2.0" fill="#000" fill-opacity="0.14"/>
<circle cx="382.8" cy="350" r="7.4" fill="url(#nr)" stroke="#8A2236" stroke-width="0.55"/>
<path d="M380.2 350.8 q1.6 -1.4 2.6 0.6 t2.2 1.0 M381.2 352.6 q1.0 1.8 2.6 0.8" fill="none" stroke="#B03048" stroke-opacity="0.45" stroke-width="0.7"/>
<ellipse cx="382.2" cy="345.7" rx="4.6" ry="2.3" fill="#fff" fill-opacity="0.5"/>
<ellipse cx="402.2" cy="370.8" rx="7.2" ry="2.0" fill="#000" fill-opacity="0.14"/>
<circle cx="401.7" cy="363.5" r="7.4" fill="url(#nr)" stroke="#8A2236" stroke-width="0.55"/>
<path d="M399.1 364.3 q1.6 -1.4 2.6 0.6 t2.2 1.0 M400.1 366.1 q1.0 1.8 2.6 0.8" fill="none" stroke="#B03048" stroke-opacity="0.45" stroke-width="0.7"/>
<ellipse cx="401.1" cy="359.2" rx="4.6" ry="2.3" fill="#fff" fill-opacity="0.5"/>
<ellipse cx="279.7" cy="371.3" rx="7.2" ry="2.0" fill="#000" fill-opacity="0.14"/>
<circle cx="279.2" cy="364" r="7.4" fill="url(#nc)" stroke="#2F7D78" stroke-width="0.55"/>
<path d="M276.6 364.8 q1.6 -1.4 2.6 0.6 t2.2 1.0 M277.6 366.6 q1.0 1.8 2.6 0.8" fill="none" stroke="#5A8A88" stroke-opacity="0.45" stroke-width="0.7"/>
<ellipse cx="278.6" cy="359.7" rx="4.6" ry="2.3" fill="#fff" fill-opacity="0.5"/>
<ellipse cx="264.3" cy="402" rx="7.2" ry="2.0" fill="#000" fill-opacity="0.14"/>
<circle cx="263.8" cy="394.7" r="7.4" fill="url(#nc)" stroke="#2F7D78" stroke-width="0.55"/>
<path d="M261.2 395.5 q1.6 -1.4 2.6 0.6 t2.2 1.0 M262.2 397.3 q1.0 1.8 2.6 0.8" fill="none" stroke="#5A8A88" stroke-opacity="0.45" stroke-width="0.7"/>
<ellipse cx="263.2" cy="390.4" rx="4.6" ry="2.3" fill="#fff" fill-opacity="0.5"/>
<ellipse cx="310.7" cy="392.9" rx="7.2" ry="2.0" fill="#000" fill-opacity="0.14"/>
<circle cx="310.2" cy="385.6" r="7.4" fill="url(#nr)" stroke="#8A2236" stroke-width="0.55"/>
<path d="M307.6 386.4 q1.6 -1.4 2.6 0.6 t2.2 1.0 M308.6 388.2 q1.0 1.8 2.6 0.8" fill="none" stroke="#B03048" stroke-opacity="0.45" stroke-width="0.7"/>
<ellipse cx="309.6" cy="381.3" rx="4.6" ry="2.3" fill="#fff" fill-opacity="0.5"/>
<ellipse cx="347.1" cy="392.5" rx="7.2" ry="2.0" fill="#000" fill-opacity="0.14"/>
<circle cx="346.6" cy="385.2" r="7.4" fill="url(#nr)" stroke="#8A2236" stroke-width="0.55"/>
<path d="M344 386 q1.6 -1.4 2.6 0.6 t2.2 1.0 M345 387.8 q1.0 1.8 2.6 0.8" fill="none" stroke="#B03048" stroke-opacity="0.45" stroke-width="0.7"/>
<ellipse cx="346" cy="380.9" rx="4.6" ry="2.3" fill="#fff" fill-opacity="0.5"/>
<ellipse cx="412.7" cy="389.4" rx="7.2" ry="2.0" fill="#000" fill-opacity="0.14"/>
<circle cx="412.2" cy="382.1" r="7.4" fill="url(#ny)" stroke="#85853F" stroke-width="0.55"/>
<path d="M409.6 382.9 q1.6 -1.4 2.6 0.6 t2.2 1.0 M410.6 384.7 q1.0 1.8 2.6 0.8" fill="none" stroke="#C0607E" stroke-opacity="0.45" stroke-width="0.7"/>
<ellipse cx="411.6" cy="377.8" rx="4.6" ry="2.3" fill="#fff" fill-opacity="0.5"/>
<ellipse cx="420.2" cy="407" rx="7.2" ry="2.0" fill="#000" fill-opacity="0.14"/>
<circle cx="419.7" cy="399.7" r="7.4" fill="url(#nr)" stroke="#8A2236" stroke-width="0.55"/>
<path d="M417.1 400.5 q1.6 -1.4 2.6 0.6 t2.2 1.0 M418.1 402.3 q1.0 1.8 2.6 0.8" fill="none" stroke="#B03048" stroke-opacity="0.45" stroke-width="0.7"/>
<ellipse cx="419.1" cy="395.4" rx="4.6" ry="2.3" fill="#fff" fill-opacity="0.5"/>
<ellipse cx="430.5" cy="427" rx="7.2" ry="2.0" fill="#000" fill-opacity="0.14"/>
<circle cx="430" cy="419.7" r="7.4" fill="url(#nr)" stroke="#8A2236" stroke-width="0.55"/>
<path d="M427.4 420.5 q1.6 -1.4 2.6 0.6 t2.2 1.0 M428.4 422.3 q1.0 1.8 2.6 0.8" fill="none" stroke="#B03048" stroke-opacity="0.45" stroke-width="0.7"/>
<ellipse cx="429.4" cy="415.4" rx="4.6" ry="2.3" fill="#fff" fill-opacity="0.5"/>
<ellipse cx="364.6" cy="413.6" rx="7.2" ry="2.0" fill="#000" fill-opacity="0.14"/>
<circle cx="364.1" cy="406.3" r="7.4" fill="url(#nr)" stroke="#8A2236" stroke-width="0.55"/>
<path d="M361.5 407.1 q1.6 -1.4 2.6 0.6 t2.2 1.0 M362.5 408.9 q1.0 1.8 2.6 0.8" fill="none" stroke="#B03048" stroke-opacity="0.45" stroke-width="0.7"/>
<ellipse cx="363.5" cy="402" rx="4.6" ry="2.3" fill="#fff" fill-opacity="0.5"/>
<ellipse cx="253.5" cy="431.3" rx="7.2" ry="2.0" fill="#000" fill-opacity="0.14"/>
<circle cx="253" cy="424" r="7.4" fill="url(#ny)" stroke="#85853F" stroke-width="0.55"/>
<path d="M250.4 424.8 q1.6 -1.4 2.6 0.6 t2.2 1.0 M251.4 426.6 q1.0 1.8 2.6 0.8" fill="none" stroke="#C0607E" stroke-opacity="0.45" stroke-width="0.7"/>
<ellipse cx="252.4" cy="419.7" rx="4.6" ry="2.3" fill="#fff" fill-opacity="0.5"/>
<ellipse cx="294.3" cy="427" rx="7.2" ry="2.0" fill="#000" fill-opacity="0.14"/>
<circle cx="293.8" cy="419.7" r="7.4" fill="url(#ng)" stroke="#2A6A2C" stroke-width="0.55"/>
<path d="M291.2 420.5 q1.6 -1.4 2.6 0.6 t2.2 1.0 M292.2 422.3 q1.0 1.8 2.6 0.8" fill="none" stroke="#2E8A34" stroke-opacity="0.45" stroke-width="0.7"/>
<ellipse cx="293.2" cy="415.4" rx="4.6" ry="2.3" fill="#fff" fill-opacity="0.5"/>
<ellipse cx="329.5" cy="434.7" rx="7.2" ry="2.0" fill="#000" fill-opacity="0.14"/>
<circle cx="329" cy="427.4" r="7.4" fill="url(#nr)" stroke="#8A2236" stroke-width="0.55"/>
<path d="M326.4 428.2 q1.6 -1.4 2.6 0.6 t2.2 1.0 M327.4 430 q1.0 1.8 2.6 0.8" fill="none" stroke="#B03048" stroke-opacity="0.45" stroke-width="0.7"/>
<ellipse cx="328.4" cy="423.1" rx="4.6" ry="2.3" fill="#fff" fill-opacity="0.5"/>
<ellipse cx="377.8" cy="442.3" rx="7.2" ry="2.0" fill="#000" fill-opacity="0.14"/>
<circle cx="377.3" cy="435" r="7.4" fill="url(#nr)" stroke="#8A2236" stroke-width="0.55"/>
<path d="M374.7 435.8 q1.6 -1.4 2.6 0.6 t2.2 1.0 M375.7 437.6 q1.0 1.8 2.6 0.8" fill="none" stroke="#B03048" stroke-opacity="0.45" stroke-width="0.7"/>
<ellipse cx="376.7" cy="430.7" rx="4.6" ry="2.3" fill="#fff" fill-opacity="0.5"/>
<ellipse cx="410.2" cy="450.4" rx="7.2" ry="2.0" fill="#000" fill-opacity="0.14"/>
<circle cx="409.7" cy="443.1" r="7.4" fill="url(#nb)" stroke="#1E1E72" stroke-width="0.55"/>
<path d="M407.1 443.9 q1.6 -1.4 2.6 0.6 t2.2 1.0 M408.1 445.7 q1.0 1.8 2.6 0.8" fill="none" stroke="#7A2A9A" stroke-opacity="0.45" stroke-width="0.7"/>
<ellipse cx="409.1" cy="438.8" rx="4.6" ry="2.3" fill="#fff" fill-opacity="0.5"/>
<ellipse cx="431.5" cy="454.8" rx="7.2" ry="2.0" fill="#000" fill-opacity="0.14"/>
<circle cx="431" cy="447.5" r="7.4" fill="url(#ny)" stroke="#85853F" stroke-width="0.55"/>
<path d="M428.4 448.3 q1.6 -1.4 2.6 0.6 t2.2 1.0 M429.4 450.1 q1.0 1.8 2.6 0.8" fill="none" stroke="#C0607E" stroke-opacity="0.45" stroke-width="0.7"/>
<ellipse cx="430.4" cy="443.2" rx="4.6" ry="2.3" fill="#fff" fill-opacity="0.5"/>
<ellipse cx="249.9" cy="457.3" rx="7.2" ry="2.0" fill="#000" fill-opacity="0.14"/>
<circle cx="249.4" cy="450" r="7.4" fill="url(#ny)" stroke="#85853F" stroke-width="0.55"/>
<path d="M246.8 450.8 q1.6 -1.4 2.6 0.6 t2.2 1.0 M247.8 452.6 q1.0 1.8 2.6 0.8" fill="none" stroke="#C0607E" stroke-opacity="0.45" stroke-width="0.7"/>
<ellipse cx="248.8" cy="445.7" rx="4.6" ry="2.3" fill="#fff" fill-opacity="0.5"/>
<ellipse cx="289.8" cy="454.6" rx="7.2" ry="2.0" fill="#000" fill-opacity="0.14"/>
<circle cx="289.3" cy="447.3" r="7.4" fill="url(#ng)" stroke="#2A6A2C" stroke-width="0.55"/>
<path d="M286.7 448.1 q1.6 -1.4 2.6 0.6 t2.2 1.0 M287.7 449.9 q1.0 1.8 2.6 0.8" fill="none" stroke="#2E8A34" stroke-opacity="0.45" stroke-width="0.7"/>
<ellipse cx="288.7" cy="443" rx="4.6" ry="2.3" fill="#fff" fill-opacity="0.5"/>
<ellipse cx="338.2" cy="464.3" rx="7.2" ry="2.0" fill="#000" fill-opacity="0.14"/>
<circle cx="337.7" cy="457" r="7.4" fill="url(#ng)" stroke="#2A6A2C" stroke-width="0.55"/>
<path d="M335.1 457.8 q1.6 -1.4 2.6 0.6 t2.2 1.0 M336.1 459.6 q1.0 1.8 2.6 0.8" fill="none" stroke="#2E8A34" stroke-opacity="0.45" stroke-width="0.7"/>
<ellipse cx="337.1" cy="452.7" rx="4.6" ry="2.3" fill="#fff" fill-opacity="0.5"/>
<ellipse cx="384.3" cy="471.3" rx="7.2" ry="2.0" fill="#000" fill-opacity="0.14"/>
<circle cx="383.8" cy="464" r="7.4" fill="url(#nr)" stroke="#8A2236" stroke-width="0.55"/>
<path d="M381.2 464.8 q1.6 -1.4 2.6 0.6 t2.2 1.0 M382.2 466.6 q1.0 1.8 2.6 0.8" fill="none" stroke="#B03048" stroke-opacity="0.45" stroke-width="0.7"/>
<ellipse cx="383.2" cy="459.7" rx="4.6" ry="2.3" fill="#fff" fill-opacity="0.5"/>
<ellipse cx="424.7" cy="475.6" rx="7.2" ry="2.0" fill="#000" fill-opacity="0.14"/>
<circle cx="424.2" cy="468.3" r="7.4" fill="url(#nb)" stroke="#1E1E72" stroke-width="0.55"/>
<path d="M421.6 469.1 q1.6 -1.4 2.6 0.6 t2.2 1.0 M422.6 470.9 q1.0 1.8 2.6 0.8" fill="none" stroke="#7A2A9A" stroke-opacity="0.45" stroke-width="0.7"/>
<ellipse cx="423.6" cy="464" rx="4.6" ry="2.3" fill="#fff" fill-opacity="0.5"/>
<ellipse cx="259.7" cy="482.4" rx="7.2" ry="2.0" fill="#000" fill-opacity="0.14"/>
<circle cx="259.2" cy="475.1" r="7.4" fill="url(#ny)" stroke="#85853F" stroke-width="0.55"/>
<path d="M256.6 475.9 q1.6 -1.4 2.6 0.6 t2.2 1.0 M257.6 477.7 q1.0 1.8 2.6 0.8" fill="none" stroke="#C0607E" stroke-opacity="0.45" stroke-width="0.7"/>
<ellipse cx="258.6" cy="470.8" rx="4.6" ry="2.3" fill="#fff" fill-opacity="0.5"/>
<ellipse cx="300.5" cy="480.9" rx="7.2" ry="2.0" fill="#000" fill-opacity="0.14"/>
<circle cx="300" cy="473.6" r="7.4" fill="url(#nr)" stroke="#8A2236" stroke-width="0.55"/>
<path d="M297.4 474.4 q1.6 -1.4 2.6 0.6 t2.2 1.0 M298.4 476.2 q1.0 1.8 2.6 0.8" fill="none" stroke="#B03048" stroke-opacity="0.45" stroke-width="0.7"/>
<ellipse cx="299.4" cy="469.3" rx="4.6" ry="2.3" fill="#fff" fill-opacity="0.5"/>
<ellipse cx="311.9" cy="503.7" rx="7.2" ry="2.0" fill="#000" fill-opacity="0.14"/>
<circle cx="311.4" cy="496.4" r="7.4" fill="url(#ng)" stroke="#2A6A2C" stroke-width="0.55"/>
<path d="M308.8 497.2 q1.6 -1.4 2.6 0.6 t2.2 1.0 M309.8 499 q1.0 1.8 2.6 0.8" fill="none" stroke="#2E8A34" stroke-opacity="0.45" stroke-width="0.7"/>
<ellipse cx="310.8" cy="492.1" rx="4.6" ry="2.3" fill="#fff" fill-opacity="0.5"/>
<ellipse cx="348.3" cy="499.9" rx="7.2" ry="2.0" fill="#000" fill-opacity="0.14"/>
<circle cx="347.8" cy="492.6" r="7.4" fill="url(#ng)" stroke="#2A6A2C" stroke-width="0.55"/>
<path d="M345.2 493.4 q1.6 -1.4 2.6 0.6 t2.2 1.0 M346.2 495.2 q1.0 1.8 2.6 0.8" fill="none" stroke="#2E8A34" stroke-opacity="0.45" stroke-width="0.7"/>
<ellipse cx="347.2" cy="488.3" rx="4.6" ry="2.3" fill="#fff" fill-opacity="0.5"/>
<ellipse cx="380" cy="494.5" rx="7.2" ry="2.0" fill="#000" fill-opacity="0.14"/>
<circle cx="379.5" cy="487.2" r="7.4" fill="url(#ng)" stroke="#2A6A2C" stroke-width="0.55"/>
<path d="M376.9 488 q1.6 -1.4 2.6 0.6 t2.2 1.0 M377.9 489.8 q1.0 1.8 2.6 0.8" fill="none" stroke="#2E8A34" stroke-opacity="0.45" stroke-width="0.7"/>
<ellipse cx="378.9" cy="482.9" rx="4.6" ry="2.3" fill="#fff" fill-opacity="0.5"/>
<ellipse cx="421.7" cy="494.9" rx="7.2" ry="2.0" fill="#000" fill-opacity="0.14"/>
<circle cx="421.2" cy="487.6" r="7.4" fill="url(#ny)" stroke="#85853F" stroke-width="0.55"/>
<path d="M418.6 488.4 q1.6 -1.4 2.6 0.6 t2.2 1.0 M419.6 490.2 q1.0 1.8 2.6 0.8" fill="none" stroke="#C0607E" stroke-opacity="0.45" stroke-width="0.7"/>
<ellipse cx="420.6" cy="483.3" rx="4.6" ry="2.3" fill="#fff" fill-opacity="0.5"/>
<ellipse cx="266.8" cy="508.7" rx="7.2" ry="2.0" fill="#000" fill-opacity="0.14"/>
<circle cx="266.3" cy="501.4" r="7.4" fill="url(#ny)" stroke="#85853F" stroke-width="0.55"/>
<path d="M263.7 502.2 q1.6 -1.4 2.6 0.6 t2.2 1.0 M264.7 504 q1.0 1.8 2.6 0.8" fill="none" stroke="#C0607E" stroke-opacity="0.45" stroke-width="0.7"/>
<ellipse cx="265.7" cy="497.1" rx="4.6" ry="2.3" fill="#fff" fill-opacity="0.5"/>
<ellipse cx="298.2" cy="530" rx="7.2" ry="2.0" fill="#000" fill-opacity="0.14"/>
<circle cx="297.7" cy="522.7" r="7.4" fill="url(#ny)" stroke="#85853F" stroke-width="0.55"/>
<path d="M295.1 523.5 q1.6 -1.4 2.6 0.6 t2.2 1.0 M296.1 525.3 q1.0 1.8 2.6 0.8" fill="none" stroke="#C0607E" stroke-opacity="0.45" stroke-width="0.7"/>
<ellipse cx="297.1" cy="518.4" rx="4.6" ry="2.3" fill="#fff" fill-opacity="0.5"/>
<ellipse cx="320.7" cy="541.3" rx="7.2" ry="2.0" fill="#000" fill-opacity="0.14"/>
<circle cx="320.2" cy="534" r="7.4" fill="url(#ng)" stroke="#2A6A2C" stroke-width="0.55"/>
<path d="M317.6 534.8 q1.6 -1.4 2.6 0.6 t2.2 1.0 M318.6 536.6 q1.0 1.8 2.6 0.8" fill="none" stroke="#2E8A34" stroke-opacity="0.45" stroke-width="0.7"/>
<ellipse cx="319.6" cy="529.7" rx="4.6" ry="2.3" fill="#fff" fill-opacity="0.5"/>
<ellipse cx="348.5" cy="541.8" rx="7.2" ry="2.0" fill="#000" fill-opacity="0.14"/>
<circle cx="348" cy="534.5" r="7.4" fill="url(#ng)" stroke="#2A6A2C" stroke-width="0.55"/>
<path d="M345.4 535.3 q1.6 -1.4 2.6 0.6 t2.2 1.0 M346.4 537.1 q1.0 1.8 2.6 0.8" fill="none" stroke="#2E8A34" stroke-opacity="0.45" stroke-width="0.7"/>
<ellipse cx="347.4" cy="530.2" rx="4.6" ry="2.3" fill="#fff" fill-opacity="0.5"/>
<ellipse cx="383.1" cy="537.7" rx="7.2" ry="2.0" fill="#000" fill-opacity="0.14"/>
<circle cx="382.6" cy="530.4" r="7.4" fill="url(#ng)" stroke="#2A6A2C" stroke-width="0.55"/>
<path d="M380 531.2 q1.6 -1.4 2.6 0.6 t2.2 1.0 M381 533 q1.0 1.8 2.6 0.8" fill="none" stroke="#2E8A34" stroke-opacity="0.45" stroke-width="0.7"/>
<ellipse cx="382" cy="526.1" rx="4.6" ry="2.3" fill="#fff" fill-opacity="0.5"/>
<ellipse cx="404.7" cy="517.5" rx="7.2" ry="2.0" fill="#000" fill-opacity="0.14"/>
<circle cx="404.2" cy="510.2" r="7.4" fill="url(#ny)" stroke="#85853F" stroke-width="0.55"/>
<path d="M401.6 511 q1.6 -1.4 2.6 0.6 t2.2 1.0 M402.6 512.8 q1.0 1.8 2.6 0.8" fill="none" stroke="#C0607E" stroke-opacity="0.45" stroke-width="0.7"/>
<ellipse cx="403.6" cy="505.9" rx="4.6" ry="2.3" fill="#fff" fill-opacity="0.5"/>
<text class="s" x="315.9" y="339.3" font-size="4.5" fill="#1c1c1c" stroke="#1c1c1c" stroke-width="0.13">RAB7A</text>
<text class="s" x="348.5" y="336" font-size="4.5" fill="#1c1c1c" stroke="#1c1c1c" stroke-width="0.13">LAMP1</text>
<text class="s" x="370.4" y="338.5" font-size="4.5" fill="#1c1c1c" stroke="#1c1c1c" stroke-width="0.13">CLIC4</text>
<text class="s" x="390.3" y="344" font-size="4.5" fill="#1c1c1c" stroke="#1c1c1c" stroke-width="0.13">TP53BP1</text>
<text class="s" x="409.2" y="357" font-size="4.5" fill="#1c1c1c" stroke="#1c1c1c" stroke-width="0.13">PCNA</text>
<text class="s" x="286.2" y="357.5" font-size="4.5" fill="#1c1c1c" stroke="#1c1c1c" stroke-width="0.13">CTSL</text>
<text class="s" x="270.8" y="388.2" font-size="4.5" fill="#1c1c1c" stroke="#1c1c1c" stroke-width="0.13">CTSD</text>
<text class="s" x="316.7" y="378.1" font-size="4.5" fill="#1c1c1c" stroke="#1c1c1c" stroke-width="0.13">ATP6V0A1</text>
<text class="s" x="353.1" y="377.7" font-size="4.5" fill="#1c1c1c" stroke="#1c1c1c" stroke-width="0.13">SQSTM1</text>
<text class="s" x="419.2" y="375.5" font-size="4.5" fill="#1c1c1c" stroke="#1c1c1c" stroke-width="0.13">DSP</text>
<text class="s" x="426.2" y="393" font-size="4.5" fill="#1c1c1c" stroke="#1c1c1c" stroke-width="0.13">GSPT1</text>
<text class="s" x="437.5" y="413.7" font-size="4.5" fill="#1c1c1c" stroke="#1c1c1c" stroke-width="0.13">MAD2L1</text>
<text class="s" x="371.6" y="399.3" font-size="4.5" fill="#1c1c1c" stroke="#1c1c1c" stroke-width="0.13">PARP1</text>
<text class="s" x="260" y="418" font-size="4.5" fill="#1c1c1c" stroke="#1c1c1c" stroke-width="0.13">LMAN2</text>
<text class="s" x="300.8" y="413.2" font-size="4.5" fill="#1c1c1c" stroke="#1c1c1c" stroke-width="0.13">CALR</text>
<text class="s" x="336" y="420.9" font-size="4.5" fill="#1c1c1c" stroke="#1c1c1c" stroke-width="0.13">VDAC1</text>
<text class="s" x="384.1" y="428.6" font-size="4.5" fill="#1c1c1c" stroke="#1c1c1c" stroke-width="0.13">RPS27A</text>
<text class="s" x="416.7" y="437.3" font-size="4.5" fill="#1c1c1c" stroke="#1c1c1c" stroke-width="0.13">APLP2</text>
<text class="s" x="438.5" y="441.1" font-size="4.5" fill="#1c1c1c" stroke="#1c1c1c" stroke-width="0.13">STMN1</text>
<text class="s" x="256.4" y="443.5" font-size="4.5" fill="#1c1c1c" stroke="#1c1c1c" stroke-width="0.13">DEK</text>
<text class="s" x="296.3" y="440.8" font-size="4.5" fill="#1c1c1c" stroke="#1c1c1c" stroke-width="0.13">HMGB1</text>
<text class="s" x="344.7" y="451" font-size="4.5" fill="#1c1c1c" stroke="#1c1c1c" stroke-width="0.13">HSP90AA1</text>
<text class="s" x="390.8" y="458" font-size="4.5" fill="#1c1c1c" stroke="#1c1c1c" stroke-width="0.13">EEF1A1</text>
<text class="s" x="431.2" y="462.1" font-size="4.5" fill="#1c1c1c" stroke="#1c1c1c" stroke-width="0.13">LGALS1</text>
<text class="s" x="266.2" y="468.6" font-size="4.5" fill="#1c1c1c" stroke="#1c1c1c" stroke-width="0.13">ACADM</text>
<text class="s" x="307.3" y="466.8" font-size="4.5" fill="#1c1c1c" stroke="#1c1c1c" stroke-width="0.13">ACOT2</text>
<text class="s" x="318.4" y="490.4" font-size="4.5" fill="#1c1c1c" stroke="#1c1c1c" stroke-width="0.13">TXNDC5</text>
<text class="s" x="354.7" y="486.1" font-size="4.5" fill="#1c1c1c" stroke="#1c1c1c" stroke-width="0.13">CCT8</text>
<text class="s" x="386.5" y="481.2" font-size="4.5" fill="#1c1c1c" stroke="#1c1c1c" stroke-width="0.13">CDC37</text>
<text class="s" x="428.2" y="481.6" font-size="4.5" fill="#1c1c1c" stroke="#1c1c1c" stroke-width="0.13">ATP2C1</text>
<text class="s" x="273.3" y="495.4" font-size="4.5" fill="#1c1c1c" stroke="#1c1c1c" stroke-width="0.13">FASN</text>
<text class="s" x="304.7" y="516.7" font-size="4.5" fill="#1c1c1c" stroke="#1c1c1c" stroke-width="0.13">ACACA</text>
<text class="s" x="326.5" y="527.5" font-size="4.5" fill="#1c1c1c" stroke="#1c1c1c" stroke-width="0.13">HSPE1</text>
<text class="s" x="355.6" y="527.8" font-size="4.5" fill="#1c1c1c" stroke="#1c1c1c" stroke-width="0.13">HSPA1B</text>
<text class="s" x="389.6" y="524.4" font-size="4.5" fill="#1c1c1c" stroke="#1c1c1c" stroke-width="0.13">PGK1</text>
<text class="s" x="411.2" y="504.2" font-size="4.5" fill="#1c1c1c" stroke="#1c1c1c" stroke-width="0.13">SRRM2</text>
</g>
</g>
</svg>
</body></html>
